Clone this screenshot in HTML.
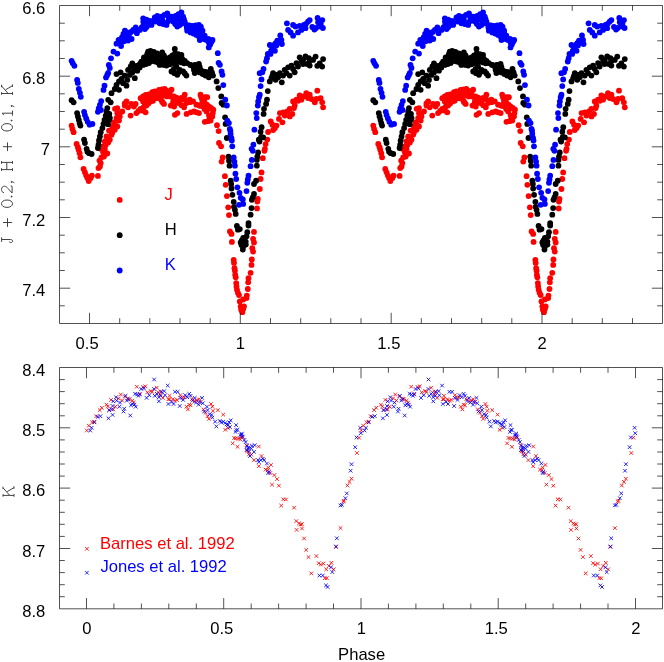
<!DOCTYPE html>
<html><head><meta charset="utf-8"><title>Light curves</title>
<style>html,body{margin:0;padding:0;background:#fff}svg{display:block;will-change:transform}</style></head>
<body>
<svg width="664" height="662" viewBox="0 0 664 662">
<rect width="664" height="662" fill="#fff"/>
<g><g fill="#f00"><circle cx="71.6" cy="125.6" r="2.9"/><circle cx="72.4" cy="128.9" r="2.9"/><circle cx="73.6" cy="132.2" r="2.9"/><circle cx="76.6" cy="143.9" r="2.9"/><circle cx="77.9" cy="147.2" r="2.9"/><circle cx="100.7" cy="148.8" r="2.9"/><circle cx="103.2" cy="146.3" r="2.9"/><circle cx="104.8" cy="141.4" r="2.9"/><circle cx="106.5" cy="136.4" r="2.9"/><circle cx="109.8" cy="139.7" r="2.9"/><circle cx="109" cy="130.6" r="2.9"/><circle cx="111.5" cy="134.7" r="2.9"/><circle cx="112.3" cy="126.4" r="2.9"/><circle cx="114.8" cy="129.7" r="2.9"/><circle cx="114" cy="122.3" r="2.9"/><circle cx="117.3" cy="126.4" r="2.9"/><circle cx="116.5" cy="118.1" r="2.9"/><circle cx="119" cy="120.6" r="2.9"/><circle cx="117.3" cy="108.1" r="2.9"/><circle cx="119.8" cy="113.1" r="2.9"/><circle cx="122.3" cy="111.5" r="2.9"/><circle cx="124.8" cy="105.6" r="2.9"/><circle cx="126.5" cy="101.5" r="2.9"/><circle cx="128.1" cy="107.3" r="2.9"/><circle cx="130.6" cy="115.6" r="2.9"/><circle cx="131.4" cy="104" r="2.9"/><circle cx="133.9" cy="106.5" r="2.9"/><circle cx="135.6" cy="104" r="2.9"/><circle cx="136.4" cy="113.1" r="2.9"/><circle cx="140.6" cy="109" r="2.9"/><circle cx="145.6" cy="112.3" r="2.9"/><circle cx="140.6" cy="98.2" r="2.9"/><circle cx="143.1" cy="101.5" r="2.9"/><circle cx="145.6" cy="94.8" r="2.9"/><circle cx="146.4" cy="105.6" r="2.9"/><circle cx="148.1" cy="98.2" r="2.9"/><circle cx="150.5" cy="101.5" r="2.9"/><circle cx="151.4" cy="94" r="2.9"/><circle cx="153.9" cy="97.3" r="2.9"/><circle cx="154.7" cy="91.5" r="2.9"/><circle cx="157.2" cy="94.8" r="2.9"/><circle cx="158.9" cy="89.8" r="2.9"/><circle cx="160.5" cy="99" r="2.9"/><circle cx="162.2" cy="92.3" r="2.9"/><circle cx="163.8" cy="95.7" r="2.9"/><circle cx="164.7" cy="89" r="2.9"/><circle cx="115" cy="108.8" r="2.9"/><circle cx="145.7" cy="101.4" r="2.9"/><circle cx="152.3" cy="92.2" r="2.9"/><circle cx="164" cy="103.9" r="2.9"/><circle cx="167.3" cy="96.4" r="2.9"/><circle cx="169.8" cy="93.1" r="2.9"/><circle cx="171.5" cy="89.7" r="2.9"/><circle cx="173.1" cy="102.2" r="2.9"/><circle cx="173.9" cy="96.4" r="2.9"/><circle cx="176.4" cy="99.7" r="2.9"/><circle cx="178.9" cy="103" r="2.9"/><circle cx="181.4" cy="98" r="2.9"/><circle cx="184.7" cy="94.7" r="2.9"/><circle cx="186.4" cy="103" r="2.9"/><circle cx="189.7" cy="99.7" r="2.9"/><circle cx="193.1" cy="101.4" r="2.9"/><circle cx="196.4" cy="104.7" r="2.9"/><circle cx="200.5" cy="94.7" r="2.9"/><circle cx="202.2" cy="99.7" r="2.9"/><circle cx="204.7" cy="103" r="2.9"/><circle cx="207.2" cy="97.2" r="2.9"/><circle cx="208.8" cy="106.3" r="2.9"/><circle cx="203.3" cy="101.4" r="2.9"/><circle cx="205" cy="97.2" r="2.9"/><circle cx="202.5" cy="106.3" r="2.9"/><circle cx="206.6" cy="108.8" r="2.9"/><circle cx="213.3" cy="109.7" r="2.9"/><circle cx="293.1" cy="101.4" r="2.9"/><circle cx="294.7" cy="105.5" r="2.9"/><circle cx="289.7" cy="108.8" r="2.9"/><circle cx="296.4" cy="99.7" r="2.9"/><circle cx="299.7" cy="95.5" r="2.9"/><circle cx="301.4" cy="99.7" r="2.9"/><circle cx="303.9" cy="96.4" r="2.9"/><circle cx="306.3" cy="93.1" r="2.9"/><circle cx="308" cy="98" r="2.9"/><circle cx="309.7" cy="94.7" r="2.9"/><circle cx="78.6" cy="149.8" r="2.9"/><circle cx="79.6" cy="153.2" r="2.9"/><circle cx="80.4" cy="157.3" r="2.9"/><circle cx="83.6" cy="169" r="2.9"/><circle cx="84.9" cy="172.3" r="2.9"/><circle cx="86.2" cy="175.6" r="2.9"/><circle cx="87.4" cy="178.1" r="2.9"/><circle cx="88.7" cy="181.1" r="2.9"/><circle cx="90.7" cy="178.1" r="2.9"/><circle cx="91.9" cy="175.6" r="2.9"/><circle cx="97.9" cy="175.9" r="2.9"/><circle cx="98.5" cy="168.1" r="2.9"/><circle cx="99.9" cy="166.5" r="2.9"/><circle cx="100.7" cy="163.1" r="2.9"/><circle cx="99.5" cy="160.6" r="2.9"/><circle cx="101.5" cy="157.3" r="2.9"/><circle cx="104" cy="156.5" r="2.9"/><circle cx="103.2" cy="152.3" r="2.9"/><circle cx="104.8" cy="149" r="2.9"/><circle cx="107.3" cy="153.5" r="2.9"/><circle cx="105.7" cy="144.9" r="2.9"/><circle cx="108.2" cy="142.4" r="2.9"/><circle cx="112.3" cy="132.4" r="2.9"/><circle cx="113.2" cy="128.2" r="2.9"/><circle cx="114.8" cy="124.9" r="2.9"/><circle cx="119.8" cy="116.6" r="2.9"/><circle cx="117.3" cy="113.3" r="2.9"/><circle cx="124.8" cy="103.3" r="2.9"/><circle cx="153" cy="100.8" r="2.9"/><circle cx="155" cy="94" r="2.9"/><circle cx="156.6" cy="98.2" r="2.9"/><circle cx="160" cy="96.5" r="2.9"/><circle cx="162.5" cy="102.3" r="2.9"/><circle cx="164.1" cy="91.5" r="2.9"/><circle cx="170.8" cy="105.6" r="2.9"/><circle cx="174.1" cy="106.5" r="2.9"/><circle cx="176.6" cy="102.3" r="2.9"/><circle cx="179.1" cy="99" r="2.9"/><circle cx="184.1" cy="107.3" r="2.9"/><circle cx="187.4" cy="100.6" r="2.9"/><circle cx="174.9" cy="114.8" r="2.9"/><circle cx="177.4" cy="113.1" r="2.9"/><circle cx="186.6" cy="113.9" r="2.9"/><circle cx="190.7" cy="112.3" r="2.9"/><circle cx="194" cy="111.5" r="2.9"/><circle cx="199" cy="113.1" r="2.9"/><circle cx="199.8" cy="105.6" r="2.9"/><circle cx="206.5" cy="111.5" r="2.9"/><circle cx="209" cy="115.6" r="2.9"/><circle cx="210.6" cy="120.6" r="2.9"/><circle cx="212.3" cy="116.4" r="2.9"/><circle cx="204.8" cy="121.8" r="2.9"/><circle cx="217" cy="125.2" r="2.9"/><circle cx="218.6" cy="131.1" r="2.9"/><circle cx="219" cy="143" r="2.9"/><circle cx="221.1" cy="146.3" r="2.9"/><circle cx="222.7" cy="157.4" r="2.9"/><circle cx="221.6" cy="161.6" r="2.9"/><circle cx="224.9" cy="176.2" r="2.9"/><circle cx="225.7" cy="184.8" r="2.9"/><circle cx="226.9" cy="196.1" r="2.9"/><circle cx="228.2" cy="207.3" r="2.9"/><circle cx="229" cy="215.1" r="2.9"/><circle cx="229.9" cy="231.4" r="2.9"/><circle cx="231.5" cy="233.9" r="2.9"/><circle cx="268.1" cy="132" r="2.9"/><circle cx="273.1" cy="130" r="2.9"/><circle cx="267.3" cy="139.6" r="2.9"/><circle cx="265.6" cy="144.1" r="2.9"/><circle cx="264.4" cy="150.8" r="2.9"/><circle cx="262.8" cy="158.2" r="2.9"/><circle cx="261.5" cy="172.4" r="2.9"/><circle cx="260.6" cy="179" r="2.9"/><circle cx="259.8" cy="189" r="2.9"/><circle cx="257.8" cy="199" r="2.9"/><circle cx="257.3" cy="201.5" r="2.9"/><circle cx="257" cy="208.4" r="2.9"/><circle cx="254" cy="231.9" r="2.9"/><circle cx="253.1" cy="238.8" r="2.9"/><circle cx="231.9" cy="241.9" r="2.9"/><circle cx="233.7" cy="259.9" r="2.9"/><circle cx="234" cy="262.9" r="2.9"/><circle cx="234.5" cy="268.2" r="2.9"/><circle cx="234.9" cy="270.7" r="2.9"/><circle cx="235.2" cy="274.8" r="2.9"/><circle cx="235.7" cy="277.3" r="2.9"/><circle cx="236.2" cy="283.1" r="2.9"/><circle cx="236.5" cy="286.5" r="2.9"/><circle cx="237" cy="289.8" r="2.9"/><circle cx="237.9" cy="292.8" r="2.9"/><circle cx="239" cy="295.1" r="2.9"/><circle cx="239.8" cy="301.4" r="2.9"/><circle cx="240.7" cy="306.4" r="2.9"/><circle cx="241.2" cy="309.7" r="2.9"/><circle cx="242.3" cy="312.2" r="2.9"/><circle cx="254" cy="242.4" r="2.9"/><circle cx="252.3" cy="248.2" r="2.9"/><circle cx="253.1" cy="251.6" r="2.9"/><circle cx="251.8" cy="259.5" r="2.9"/><circle cx="251.5" cy="264.9" r="2.9"/><circle cx="250.6" cy="272.8" r="2.9"/><circle cx="248.5" cy="278.2" r="2.9"/><circle cx="248.2" cy="282.3" r="2.9"/><circle cx="247.8" cy="289" r="2.9"/><circle cx="246.8" cy="295.6" r="2.9"/><circle cx="246.5" cy="298.1" r="2.9"/><circle cx="243.2" cy="299.4" r="2.9"/><circle cx="244" cy="306.4" r="2.9"/><circle cx="243.2" cy="308.9" r="2.9"/><circle cx="264.9" cy="148.8" r="2.9"/><circle cx="270.7" cy="121.4" r="2.9"/><circle cx="272.4" cy="124.7" r="2.9"/><circle cx="274.9" cy="128.1" r="2.9"/><circle cx="276.5" cy="125.6" r="2.9"/><circle cx="279" cy="118.9" r="2.9"/><circle cx="279.9" cy="113.1" r="2.9"/><circle cx="282.4" cy="122.3" r="2.9"/><circle cx="283.2" cy="112.3" r="2.9"/><circle cx="284.8" cy="115.6" r="2.9"/><circle cx="287.3" cy="111.5" r="2.9"/><circle cx="289.8" cy="116.4" r="2.9"/><circle cx="292.3" cy="113.9" r="2.9"/><circle cx="294" cy="108.1" r="2.9"/><circle cx="311.4" cy="99" r="2.9"/><circle cx="314.8" cy="102.3" r="2.9"/><circle cx="317.3" cy="90.7" r="2.9"/><circle cx="316.4" cy="99" r="2.9"/><circle cx="320.6" cy="98.2" r="2.9"/><circle cx="322.2" cy="102.3" r="2.9"/><circle cx="323.1" cy="107.3" r="2.9"/><circle cx="298.1" cy="100.8" r="2.9"/><circle cx="138.5" cy="111" r="2.9"/><circle cx="143.1" cy="110.7" r="2.9"/><circle cx="143.5" cy="107.3" r="2.9"/><circle cx="143.1" cy="96.5" r="2.9"/><circle cx="143.1" cy="99.8" r="2.9"/><circle cx="144.8" cy="103.5" r="2.9"/><circle cx="148.5" cy="94.4" r="2.9"/><circle cx="145.6" cy="98.1" r="2.9"/><circle cx="148.4" cy="103.5" r="2.9"/><circle cx="151" cy="97.8" r="2.9"/><circle cx="154.3" cy="94.4" r="2.9"/><circle cx="157.2" cy="98.2" r="2.9"/><circle cx="158.1" cy="92.3" r="2.9"/><circle cx="160.5" cy="95.2" r="2.9"/><circle cx="161.8" cy="89.4" r="2.9"/><circle cx="162.2" cy="101.5" r="2.9"/><circle cx="164.8" cy="94.3" r="2.9"/><circle cx="167.2" cy="91" r="2.9"/><circle cx="170.6" cy="96.4" r="2.9"/><circle cx="173.5" cy="99.3" r="2.9"/><circle cx="176" cy="102.6" r="2.9"/><circle cx="176.5" cy="97.7" r="2.9"/><circle cx="180.2" cy="100.5" r="2.9"/><circle cx="181.5" cy="105.2" r="2.9"/><circle cx="184.4" cy="99.3" r="2.9"/><circle cx="189.8" cy="102.2" r="2.9"/><circle cx="199.4" cy="105.5" r="2.9"/><circle cx="201.3" cy="97.2" r="2.9"/><circle cx="204.7" cy="98.5" r="2.9"/><circle cx="202.3" cy="103" r="2.9"/><circle cx="206.8" cy="104.7" r="2.9"/><circle cx="211.1" cy="108" r="2.9"/><circle cx="207.7" cy="108.9" r="2.9"/><circle cx="204.5" cy="108.9" r="2.9"/><circle cx="212.8" cy="113.1" r="2.9"/><circle cx="196.5" cy="112.3" r="2.9"/><circle cx="209.8" cy="118.1" r="2.9"/><circle cx="207.7" cy="121.2" r="2.9"/></g><g fill="#000"><circle cx="71.6" cy="100.2" r="2.9"/><circle cx="73.6" cy="102.3" r="2.9"/><circle cx="77.1" cy="113.1" r="2.9"/><circle cx="77.9" cy="116.4" r="2.9"/><circle cx="78.8" cy="119.8" r="2.9"/><circle cx="79.6" cy="123.1" r="2.9"/><circle cx="80.4" cy="125.6" r="2.9"/><circle cx="84.1" cy="139.7" r="2.9"/><circle cx="84.9" cy="143" r="2.9"/><circle cx="86.6" cy="148.8" r="2.9"/><circle cx="97.9" cy="148" r="2.9"/><circle cx="98.5" cy="144.7" r="2.9"/><circle cx="99" cy="140.5" r="2.9"/><circle cx="99.9" cy="136.4" r="2.9"/><circle cx="100.7" cy="132.2" r="2.9"/><circle cx="102.4" cy="128.1" r="2.9"/><circle cx="103.5" cy="123.9" r="2.9"/><circle cx="104.5" cy="119.8" r="2.9"/><circle cx="105.7" cy="115.6" r="2.9"/><circle cx="106.5" cy="111.5" r="2.9"/><circle cx="107.3" cy="108.1" r="2.9"/><circle cx="108.2" cy="99.8" r="2.9"/><circle cx="110.7" cy="102.3" r="2.9"/><circle cx="111.5" cy="93.2" r="2.9"/><circle cx="114.8" cy="89" r="2.9"/><circle cx="119" cy="89.8" r="2.9"/><circle cx="126.5" cy="85.7" r="2.9"/><circle cx="116.5" cy="84.9" r="2.9"/><circle cx="119" cy="81.5" r="2.9"/><circle cx="116.5" cy="74.1" r="2.9"/><circle cx="121.5" cy="79" r="2.9"/><circle cx="123.1" cy="83.2" r="2.9"/><circle cx="120.6" cy="72.4" r="2.9"/><circle cx="124.8" cy="75.7" r="2.9"/><circle cx="127.3" cy="79.9" r="2.9"/><circle cx="128.1" cy="69.9" r="2.9"/><circle cx="129.8" cy="74.9" r="2.9"/><circle cx="132.3" cy="72.4" r="2.9"/><circle cx="134.8" cy="78.2" r="2.9"/><circle cx="132.3" cy="63.3" r="2.9"/><circle cx="133.9" cy="68.2" r="2.9"/><circle cx="136.4" cy="65.8" r="2.9"/><circle cx="137.3" cy="70.7" r="2.9"/><circle cx="139.7" cy="67.4" r="2.9"/><circle cx="141.4" cy="61.6" r="2.9"/><circle cx="143.1" cy="64.9" r="2.9"/><circle cx="145.6" cy="61.6" r="2.9"/><circle cx="146.4" cy="56.6" r="2.9"/><circle cx="148.1" cy="51.6" r="2.9"/><circle cx="150.5" cy="50.8" r="2.9"/><circle cx="149.7" cy="56.6" r="2.9"/><circle cx="152.2" cy="60.8" r="2.9"/><circle cx="153" cy="55" r="2.9"/><circle cx="154.7" cy="58.3" r="2.9"/><circle cx="157.2" cy="53.3" r="2.9"/><circle cx="158" cy="62.4" r="2.9"/><circle cx="159.7" cy="64.9" r="2.9"/><circle cx="161.3" cy="56.6" r="2.9"/><circle cx="162.2" cy="52.5" r="2.9"/><circle cx="163.8" cy="61.6" r="2.9"/><circle cx="163.8" cy="64.9" r="2.9"/><circle cx="175.1" cy="53.5" r="2.9"/><circle cx="130.7" cy="66.5" r="2.9"/><circle cx="139.9" cy="64" r="2.9"/><circle cx="144" cy="57.3" r="2.9"/><circle cx="149" cy="63.1" r="2.9"/><circle cx="152.3" cy="52.3" r="2.9"/><circle cx="155.7" cy="54.8" r="2.9"/><circle cx="159" cy="57.3" r="2.9"/><circle cx="165.6" cy="58.2" r="2.9"/><circle cx="166.5" cy="65.6" r="2.9"/><circle cx="168.1" cy="61.5" r="2.9"/><circle cx="169.8" cy="57.3" r="2.9"/><circle cx="171.5" cy="71.5" r="2.9"/><circle cx="173.1" cy="63.1" r="2.9"/><circle cx="174.8" cy="49" r="2.9"/><circle cx="175.6" cy="57.3" r="2.9"/><circle cx="176.4" cy="66.5" r="2.9"/><circle cx="177.3" cy="74.8" r="2.9"/><circle cx="178.9" cy="61.5" r="2.9"/><circle cx="179.8" cy="69.8" r="2.9"/><circle cx="181.4" cy="54.8" r="2.9"/><circle cx="182.3" cy="59" r="2.9"/><circle cx="183.1" cy="71.5" r="2.9"/><circle cx="186.4" cy="75.6" r="2.9"/><circle cx="187.2" cy="63.1" r="2.9"/><circle cx="190.6" cy="64.8" r="2.9"/><circle cx="193.1" cy="66.5" r="2.9"/><circle cx="194.7" cy="73.1" r="2.9"/><circle cx="197.2" cy="69" r="2.9"/><circle cx="198.9" cy="64" r="2.9"/><circle cx="200.5" cy="69.8" r="2.9"/><circle cx="203" cy="71.5" r="2.9"/><circle cx="205.5" cy="75.6" r="2.9"/><circle cx="208" cy="72.3" r="2.9"/><circle cx="208.8" cy="77.3" r="2.9"/><circle cx="210.8" cy="69" r="2.9"/><circle cx="211.6" cy="73.1" r="2.9"/><circle cx="213" cy="75.6" r="2.9"/><circle cx="216.6" cy="81.4" r="2.9"/><circle cx="218.3" cy="88.1" r="2.9"/><circle cx="221.3" cy="96.4" r="2.9"/><circle cx="221.6" cy="103" r="2.9"/><circle cx="223.3" cy="104.7" r="2.9"/><circle cx="264" cy="108.8" r="2.9"/><circle cx="266.1" cy="103.9" r="2.9"/><circle cx="267" cy="99.7" r="2.9"/><circle cx="267.8" cy="91.1" r="2.9"/><circle cx="269.8" cy="81.4" r="2.9"/><circle cx="271.5" cy="78.1" r="2.9"/><circle cx="273.1" cy="73.1" r="2.9"/><circle cx="274.8" cy="76.4" r="2.9"/><circle cx="275.6" cy="79.8" r="2.9"/><circle cx="278.1" cy="77.3" r="2.9"/><circle cx="279.8" cy="73.1" r="2.9"/><circle cx="281.8" cy="82.3" r="2.9"/><circle cx="283.1" cy="75.6" r="2.9"/><circle cx="284.7" cy="69.8" r="2.9"/><circle cx="286.4" cy="73.1" r="2.9"/><circle cx="288.1" cy="67.3" r="2.9"/><circle cx="289.7" cy="75.6" r="2.9"/><circle cx="291.4" cy="65.6" r="2.9"/><circle cx="293.1" cy="69" r="2.9"/><circle cx="294.7" cy="72.3" r="2.9"/><circle cx="296.4" cy="63.1" r="2.9"/><circle cx="298" cy="66.5" r="2.9"/><circle cx="299.7" cy="57.3" r="2.9"/><circle cx="301.4" cy="61.5" r="2.9"/><circle cx="303" cy="64" r="2.9"/><circle cx="305.5" cy="56.5" r="2.9"/><circle cx="307.2" cy="64" r="2.9"/><circle cx="308.8" cy="58.2" r="2.9"/><circle cx="309.7" cy="65.6" r="2.9"/><circle cx="87.4" cy="151.8" r="2.9"/><circle cx="89.1" cy="153.2" r="2.9"/><circle cx="91.6" cy="154" r="2.9"/><circle cx="107.3" cy="117.4" r="2.9"/><circle cx="109" cy="119.9" r="2.9"/><circle cx="152.5" cy="58.3" r="2.9"/><circle cx="184.1" cy="63.3" r="2.9"/><circle cx="194.9" cy="64.9" r="2.9"/><circle cx="199.8" cy="72.4" r="2.9"/><circle cx="225.1" cy="117.3" r="2.9"/><circle cx="225.6" cy="123.9" r="2.9"/><circle cx="226.8" cy="138" r="2.9"/><circle cx="258.8" cy="139.7" r="2.9"/><circle cx="228.5" cy="156.6" r="2.9"/><circle cx="229" cy="160.7" r="2.9"/><circle cx="229.5" cy="165.7" r="2.9"/><circle cx="230.7" cy="180.7" r="2.9"/><circle cx="231.2" cy="184" r="2.9"/><circle cx="231.5" cy="188.5" r="2.9"/><circle cx="232.4" cy="194.8" r="2.9"/><circle cx="233.7" cy="201.8" r="2.9"/><circle cx="234" cy="206.8" r="2.9"/><circle cx="234.9" cy="209.8" r="2.9"/><circle cx="235.7" cy="213.9" r="2.9"/><circle cx="236.9" cy="226" r="2.9"/><circle cx="237.9" cy="229.7" r="2.9"/><circle cx="247.3" cy="232.2" r="2.9"/><circle cx="246.5" cy="236.3" r="2.9"/><circle cx="243.2" cy="238" r="2.9"/><circle cx="260.6" cy="131.7" r="2.9"/><circle cx="261.1" cy="137" r="2.9"/><circle cx="259.5" cy="141.6" r="2.9"/><circle cx="258.1" cy="152.4" r="2.9"/><circle cx="257.3" cy="156.6" r="2.9"/><circle cx="256.8" cy="159.9" r="2.9"/><circle cx="256.8" cy="165.7" r="2.9"/><circle cx="256.1" cy="180.7" r="2.9"/><circle cx="254" cy="184" r="2.9"/><circle cx="254" cy="194" r="2.9"/><circle cx="252.8" cy="197.3" r="2.9"/><circle cx="251.8" cy="199.8" r="2.9"/><circle cx="251.5" cy="208.1" r="2.9"/><circle cx="250.6" cy="214.7" r="2.9"/><circle cx="248.5" cy="223.1" r="2.9"/><circle cx="248.5" cy="225.5" r="2.9"/><circle cx="239.8" cy="229.1" r="2.9"/><circle cx="245.8" cy="244.6" r="2.9"/><circle cx="241.8" cy="240.3" r="2.9"/><circle cx="244" cy="239.9" r="2.9"/><circle cx="240.7" cy="242.4" r="2.9"/><circle cx="241.5" cy="244.9" r="2.9"/><circle cx="245.7" cy="241.6" r="2.9"/><circle cx="243.2" cy="246.6" r="2.9"/><circle cx="242.8" cy="249.6" r="2.9"/><circle cx="261.6" cy="127.2" r="2.9"/><circle cx="263.6" cy="113.9" r="2.9"/><circle cx="272.4" cy="75.7" r="2.9"/><circle cx="276.5" cy="74.9" r="2.9"/><circle cx="303.1" cy="59.9" r="2.9"/><circle cx="309.8" cy="60.8" r="2.9"/><circle cx="313.1" cy="59.9" r="2.9"/><circle cx="315.6" cy="56.6" r="2.9"/><circle cx="317.3" cy="65.8" r="2.9"/><circle cx="319.7" cy="63.3" r="2.9"/><circle cx="322.2" cy="66.6" r="2.9"/><circle cx="323.1" cy="59.1" r="2.9"/><circle cx="263.2" cy="137.4" r="2.9"/><circle cx="109.3" cy="113.9" r="2.9"/><circle cx="109.9" cy="118.1" r="2.9"/><circle cx="108.1" cy="124.2" r="2.9"/><circle cx="143.9" cy="59.1" r="2.9"/><circle cx="146.1" cy="64" r="2.9"/><circle cx="147.6" cy="59.1" r="2.9"/><circle cx="147.2" cy="54.1" r="2.9"/><circle cx="149.7" cy="55.8" r="2.9"/><circle cx="153.8" cy="52" r="2.9"/><circle cx="152.7" cy="55.7" r="2.9"/><circle cx="155.1" cy="61.6" r="2.9"/><circle cx="156" cy="56.1" r="2.9"/><circle cx="151.8" cy="60.7" r="2.9"/><circle cx="159.2" cy="55" r="2.9"/><circle cx="159.7" cy="59.5" r="2.9"/><circle cx="160.9" cy="63.7" r="2.9"/><circle cx="163.9" cy="55.4" r="2.9"/><circle cx="166.8" cy="59.5" r="2.9"/><circle cx="165.9" cy="63.2" r="2.9"/><circle cx="172.4" cy="55.4" r="2.9"/><circle cx="178.2" cy="54.1" r="2.9"/><circle cx="169.8" cy="64.3" r="2.9"/><circle cx="171.4" cy="60.2" r="2.9"/><circle cx="173.9" cy="69" r="2.9"/><circle cx="174.4" cy="73.2" r="2.9"/><circle cx="176" cy="62.3" r="2.9"/><circle cx="177.2" cy="59.4" r="2.9"/><circle cx="178.6" cy="72.3" r="2.9"/><circle cx="180.2" cy="58.1" r="2.9"/><circle cx="181.5" cy="62.4" r="2.9"/><circle cx="184.8" cy="61" r="2.9"/><circle cx="184.8" cy="73.5" r="2.9"/><circle cx="190.1" cy="64.8" r="2.9"/><circle cx="193.9" cy="69.8" r="2.9"/><circle cx="196" cy="65.2" r="2.9"/><circle cx="197.6" cy="71.4" r="2.9"/><circle cx="199.7" cy="66.9" r="2.9"/><circle cx="205.5" cy="71.9" r="2.9"/><circle cx="208.6" cy="74.3" r="2.9"/><circle cx="202.7" cy="74" r="2.9"/><circle cx="211.9" cy="72.3" r="2.9"/></g><g fill="#00f"><circle cx="71.6" cy="60.8" r="2.9"/><circle cx="72.8" cy="63.3" r="2.9"/><circle cx="74.4" cy="65.8" r="2.9"/><circle cx="77.1" cy="79.9" r="2.9"/><circle cx="77.8" cy="82.9" r="2.9"/><circle cx="78.8" cy="89" r="2.9"/><circle cx="79.9" cy="92.8" r="2.9"/><circle cx="80.8" cy="96.8" r="2.9"/><circle cx="84.1" cy="111.8" r="2.9"/><circle cx="84.9" cy="115.1" r="2.9"/><circle cx="86.2" cy="118.4" r="2.9"/><circle cx="87.7" cy="121.8" r="2.9"/><circle cx="89.6" cy="124.7" r="2.9"/><circle cx="92.4" cy="123.9" r="2.9"/><circle cx="97.9" cy="111.8" r="2.9"/><circle cx="98.7" cy="108.5" r="2.9"/><circle cx="99.9" cy="104.8" r="2.9"/><circle cx="101.2" cy="101.1" r="2.9"/><circle cx="117.3" cy="53.6" r="2.9"/><circle cx="116.5" cy="43.7" r="2.9"/><circle cx="119" cy="42.5" r="2.9"/><circle cx="121.1" cy="46.1" r="2.9"/><circle cx="124" cy="41.3" r="2.9"/><circle cx="128.1" cy="40.5" r="2.9"/><circle cx="155.7" cy="21.6" r="2.9"/><circle cx="159.8" cy="23.3" r="2.9"/><circle cx="148.2" cy="24.9" r="2.9"/><circle cx="118.6" cy="39.9" r="2.9"/><circle cx="121.9" cy="37.4" r="2.9"/><circle cx="124.9" cy="30.7" r="2.9"/><circle cx="124.9" cy="35.7" r="2.9"/><circle cx="129.1" cy="34.1" r="2.9"/><circle cx="131.6" cy="39" r="2.9"/><circle cx="133.2" cy="29.9" r="2.9"/><circle cx="135.7" cy="27.4" r="2.9"/><circle cx="136.9" cy="33.2" r="2.9"/><circle cx="139.9" cy="29.9" r="2.9"/><circle cx="143.2" cy="18.3" r="2.9"/><circle cx="143.5" cy="24.9" r="2.9"/><circle cx="144.9" cy="29.1" r="2.9"/><circle cx="147.4" cy="22.4" r="2.9"/><circle cx="149.8" cy="20.8" r="2.9"/><circle cx="151.5" cy="24.9" r="2.9"/><circle cx="154.8" cy="17.4" r="2.9"/><circle cx="157.3" cy="15.8" r="2.9"/><circle cx="159" cy="19.9" r="2.9"/><circle cx="161.5" cy="16.6" r="2.9"/><circle cx="163.1" cy="23.3" r="2.9"/><circle cx="166.5" cy="24.9" r="2.9"/><circle cx="167.3" cy="13.3" r="2.9"/><circle cx="169" cy="18.3" r="2.9"/><circle cx="171.5" cy="16.6" r="2.9"/><circle cx="173.1" cy="21.6" r="2.9"/><circle cx="175.6" cy="15.8" r="2.9"/><circle cx="177.3" cy="26.6" r="2.9"/><circle cx="178.9" cy="18.3" r="2.9"/><circle cx="181.4" cy="12.5" r="2.9"/><circle cx="183.1" cy="16.6" r="2.9"/><circle cx="182.3" cy="23.3" r="2.9"/><circle cx="184.7" cy="21.6" r="2.9"/><circle cx="186.4" cy="24.9" r="2.9"/><circle cx="187.2" cy="30.7" r="2.9"/><circle cx="190.6" cy="32.4" r="2.9"/><circle cx="192.2" cy="25.8" r="2.9"/><circle cx="194.7" cy="28.2" r="2.9"/><circle cx="196.4" cy="34.9" r="2.9"/><circle cx="198.9" cy="24.9" r="2.9"/><circle cx="199.7" cy="30.7" r="2.9"/><circle cx="202.2" cy="33.2" r="2.9"/><circle cx="201.4" cy="38.2" r="2.9"/><circle cx="204.7" cy="35.7" r="2.9"/><circle cx="206.3" cy="39.9" r="2.9"/><circle cx="208.8" cy="42.4" r="2.9"/><circle cx="208.8" cy="47.4" r="2.9"/><circle cx="200.8" cy="26.6" r="2.9"/><circle cx="202.5" cy="30.7" r="2.9"/><circle cx="208.3" cy="39" r="2.9"/><circle cx="212.5" cy="39.9" r="2.9"/><circle cx="217.8" cy="53.2" r="2.9"/><circle cx="218.6" cy="62.8" r="2.9"/><circle cx="219.9" cy="64.8" r="2.9"/><circle cx="221.6" cy="71.5" r="2.9"/><circle cx="222.4" cy="74.8" r="2.9"/><circle cx="223.3" cy="85.1" r="2.9"/><circle cx="225.3" cy="99.7" r="2.9"/><circle cx="226.9" cy="105.5" r="2.9"/><circle cx="257.8" cy="105.5" r="2.9"/><circle cx="258.2" cy="101.4" r="2.9"/><circle cx="259" cy="97.2" r="2.9"/><circle cx="259.8" cy="94.7" r="2.9"/><circle cx="260.6" cy="86.1" r="2.9"/><circle cx="261.5" cy="79.4" r="2.9"/><circle cx="262.3" cy="72.3" r="2.9"/><circle cx="263.5" cy="69" r="2.9"/><circle cx="266.1" cy="61.5" r="2.9"/><circle cx="267" cy="58.2" r="2.9"/><circle cx="267.8" cy="54" r="2.9"/><circle cx="269.8" cy="44.9" r="2.9"/><circle cx="271.8" cy="46.5" r="2.9"/><circle cx="273.1" cy="49.8" r="2.9"/><circle cx="275.6" cy="43.2" r="2.9"/><circle cx="277.3" cy="40.7" r="2.9"/><circle cx="280.3" cy="35.4" r="2.9"/><circle cx="281.4" cy="39.9" r="2.9"/><circle cx="281.9" cy="44" r="2.9"/><circle cx="286.9" cy="23.3" r="2.9"/><circle cx="288.1" cy="29.9" r="2.9"/><circle cx="290.6" cy="32.4" r="2.9"/><circle cx="293.1" cy="24.9" r="2.9"/><circle cx="293.1" cy="35.7" r="2.9"/><circle cx="295.5" cy="26.6" r="2.9"/><circle cx="298" cy="32.4" r="2.9"/><circle cx="299.7" cy="25.8" r="2.9"/><circle cx="301.4" cy="29.9" r="2.9"/><circle cx="303.9" cy="24.9" r="2.9"/><circle cx="305.5" cy="28.2" r="2.9"/><circle cx="308" cy="21.6" r="2.9"/><circle cx="199.8" cy="40" r="2.9"/><circle cx="211.5" cy="41.7" r="2.9"/><circle cx="227.3" cy="120.6" r="2.9"/><circle cx="228.9" cy="123.1" r="2.9"/><circle cx="229.8" cy="128.9" r="2.9"/><circle cx="230.6" cy="133.9" r="2.9"/><circle cx="231.4" cy="138" r="2.9"/><circle cx="231.8" cy="140.5" r="2.9"/><circle cx="232.3" cy="146.3" r="2.9"/><circle cx="256.3" cy="113.1" r="2.9"/><circle cx="256.7" cy="118.1" r="2.9"/><circle cx="254.4" cy="129.7" r="2.9"/><circle cx="253.4" cy="144.7" r="2.9"/><circle cx="259.7" cy="73.2" r="2.9"/><circle cx="230.4" cy="130.8" r="2.9"/><circle cx="233.7" cy="157.4" r="2.9"/><circle cx="234.4" cy="161.6" r="2.9"/><circle cx="234.9" cy="165.7" r="2.9"/><circle cx="235.4" cy="173.7" r="2.9"/><circle cx="236.2" cy="179" r="2.9"/><circle cx="237.4" cy="187.3" r="2.9"/><circle cx="239.5" cy="192.8" r="2.9"/><circle cx="240.7" cy="197.8" r="2.9"/><circle cx="242.8" cy="199.5" r="2.9"/><circle cx="239" cy="204.8" r="2.9"/><circle cx="243.2" cy="203.9" r="2.9"/><circle cx="252.8" cy="150.8" r="2.9"/><circle cx="251.8" cy="159.9" r="2.9"/><circle cx="250.6" cy="166.2" r="2.9"/><circle cx="248.5" cy="175.7" r="2.9"/><circle cx="247.8" cy="179.5" r="2.9"/><circle cx="247.3" cy="182.8" r="2.9"/><circle cx="246.5" cy="191.1" r="2.9"/><circle cx="279.9" cy="42.5" r="2.9"/><circle cx="274.9" cy="50.8" r="2.9"/><circle cx="251.6" cy="148.8" r="2.9"/><circle cx="306" cy="23.8" r="2.9"/><circle cx="309.7" cy="20.1" r="2.9"/><circle cx="312.3" cy="27" r="2.9"/><circle cx="314.4" cy="29.6" r="2.9"/><circle cx="316" cy="28" r="2.9"/><circle cx="317.6" cy="18" r="2.9"/><circle cx="318.1" cy="22.2" r="2.9"/><circle cx="320.8" cy="23.8" r="2.9"/><circle cx="322.3" cy="20.1" r="2.9"/><circle cx="322.9" cy="28" r="2.9"/><circle cx="319.7" cy="26.4" r="2.9"/><circle cx="276.3" cy="45.5" r="2.9"/><circle cx="274.2" cy="44.9" r="2.9"/><circle cx="271.1" cy="50.8" r="2.9"/><circle cx="270.5" cy="53.9" r="2.9"/><circle cx="100.9" cy="110" r="2.9"/><circle cx="103.5" cy="89.9" r="2.9"/><circle cx="104.5" cy="85.7" r="2.9"/><circle cx="106" cy="77.4" r="2.9"/><circle cx="107.2" cy="75" r="2.9"/><circle cx="108.2" cy="72.9" r="2.9"/><circle cx="109.8" cy="67.9" r="2.9"/><circle cx="108.8" cy="64.9" r="2.9"/><circle cx="111" cy="58.3" r="2.9"/><circle cx="113.5" cy="51.6" r="2.9"/><circle cx="121.5" cy="41.9" r="2.9"/><circle cx="124.5" cy="38.5" r="2.9"/><circle cx="128.6" cy="37.3" r="2.9"/><circle cx="152.8" cy="21.2" r="2.9"/><circle cx="156.5" cy="18.7" r="2.9"/><circle cx="159.4" cy="22.5" r="2.9"/><circle cx="163.2" cy="24.1" r="2.9"/><circle cx="146.6" cy="27" r="2.9"/><circle cx="123.4" cy="34" r="2.9"/><circle cx="127" cy="32.4" r="2.9"/><circle cx="131.1" cy="32" r="2.9"/><circle cx="136.6" cy="29.9" r="2.9"/><circle cx="141.7" cy="27.4" r="2.9"/><circle cx="143.3" cy="21.6" r="2.9"/><circle cx="146.5" cy="19.6" r="2.9"/><circle cx="146.7" cy="22.9" r="2.9"/><circle cx="162.3" cy="20" r="2.9"/><circle cx="164.4" cy="15" r="2.9"/><circle cx="167.8" cy="21.6" r="2.9"/><circle cx="168.2" cy="15.8" r="2.9"/><circle cx="171.1" cy="20" r="2.9"/><circle cx="172.3" cy="17.1" r="2.9"/><circle cx="175.2" cy="24.1" r="2.9"/><circle cx="176" cy="20" r="2.9"/><circle cx="178.5" cy="14.2" r="2.9"/><circle cx="179.8" cy="25" r="2.9"/><circle cx="180.6" cy="20.8" r="2.9"/><circle cx="183.9" cy="19.1" r="2.9"/><circle cx="186.8" cy="27.8" r="2.9"/><circle cx="189.3" cy="25.4" r="2.9"/><circle cx="191.4" cy="29.1" r="2.9"/><circle cx="193.5" cy="33.6" r="2.9"/><circle cx="195.6" cy="25.4" r="2.9"/><circle cx="197.2" cy="29.4" r="2.9"/><circle cx="198.1" cy="32.8" r="2.9"/><circle cx="198.9" cy="36.5" r="2.9"/><circle cx="200.7" cy="27.8" r="2.9"/><circle cx="202.2" cy="33.2" r="2.9"/><circle cx="203.9" cy="39" r="2.9"/><circle cx="209.4" cy="39.9" r="2.9"/><circle cx="210.2" cy="44.5" r="2.9"/></g></g>
<g transform="translate(301.67 0)"><g fill="#f00"><circle cx="71.6" cy="125.6" r="2.9"/><circle cx="72.4" cy="128.9" r="2.9"/><circle cx="73.6" cy="132.2" r="2.9"/><circle cx="76.6" cy="143.9" r="2.9"/><circle cx="77.9" cy="147.2" r="2.9"/><circle cx="100.7" cy="148.8" r="2.9"/><circle cx="103.2" cy="146.3" r="2.9"/><circle cx="104.8" cy="141.4" r="2.9"/><circle cx="106.5" cy="136.4" r="2.9"/><circle cx="109.8" cy="139.7" r="2.9"/><circle cx="109" cy="130.6" r="2.9"/><circle cx="111.5" cy="134.7" r="2.9"/><circle cx="112.3" cy="126.4" r="2.9"/><circle cx="114.8" cy="129.7" r="2.9"/><circle cx="114" cy="122.3" r="2.9"/><circle cx="117.3" cy="126.4" r="2.9"/><circle cx="116.5" cy="118.1" r="2.9"/><circle cx="119" cy="120.6" r="2.9"/><circle cx="117.3" cy="108.1" r="2.9"/><circle cx="119.8" cy="113.1" r="2.9"/><circle cx="122.3" cy="111.5" r="2.9"/><circle cx="124.8" cy="105.6" r="2.9"/><circle cx="126.5" cy="101.5" r="2.9"/><circle cx="128.1" cy="107.3" r="2.9"/><circle cx="130.6" cy="115.6" r="2.9"/><circle cx="131.4" cy="104" r="2.9"/><circle cx="133.9" cy="106.5" r="2.9"/><circle cx="135.6" cy="104" r="2.9"/><circle cx="136.4" cy="113.1" r="2.9"/><circle cx="140.6" cy="109" r="2.9"/><circle cx="145.6" cy="112.3" r="2.9"/><circle cx="140.6" cy="98.2" r="2.9"/><circle cx="143.1" cy="101.5" r="2.9"/><circle cx="145.6" cy="94.8" r="2.9"/><circle cx="146.4" cy="105.6" r="2.9"/><circle cx="148.1" cy="98.2" r="2.9"/><circle cx="150.5" cy="101.5" r="2.9"/><circle cx="151.4" cy="94" r="2.9"/><circle cx="153.9" cy="97.3" r="2.9"/><circle cx="154.7" cy="91.5" r="2.9"/><circle cx="157.2" cy="94.8" r="2.9"/><circle cx="158.9" cy="89.8" r="2.9"/><circle cx="160.5" cy="99" r="2.9"/><circle cx="162.2" cy="92.3" r="2.9"/><circle cx="163.8" cy="95.7" r="2.9"/><circle cx="164.7" cy="89" r="2.9"/><circle cx="115" cy="108.8" r="2.9"/><circle cx="145.7" cy="101.4" r="2.9"/><circle cx="152.3" cy="92.2" r="2.9"/><circle cx="164" cy="103.9" r="2.9"/><circle cx="167.3" cy="96.4" r="2.9"/><circle cx="169.8" cy="93.1" r="2.9"/><circle cx="171.5" cy="89.7" r="2.9"/><circle cx="173.1" cy="102.2" r="2.9"/><circle cx="173.9" cy="96.4" r="2.9"/><circle cx="176.4" cy="99.7" r="2.9"/><circle cx="178.9" cy="103" r="2.9"/><circle cx="181.4" cy="98" r="2.9"/><circle cx="184.7" cy="94.7" r="2.9"/><circle cx="186.4" cy="103" r="2.9"/><circle cx="189.7" cy="99.7" r="2.9"/><circle cx="193.1" cy="101.4" r="2.9"/><circle cx="196.4" cy="104.7" r="2.9"/><circle cx="200.5" cy="94.7" r="2.9"/><circle cx="202.2" cy="99.7" r="2.9"/><circle cx="204.7" cy="103" r="2.9"/><circle cx="207.2" cy="97.2" r="2.9"/><circle cx="208.8" cy="106.3" r="2.9"/><circle cx="203.3" cy="101.4" r="2.9"/><circle cx="205" cy="97.2" r="2.9"/><circle cx="202.5" cy="106.3" r="2.9"/><circle cx="206.6" cy="108.8" r="2.9"/><circle cx="213.3" cy="109.7" r="2.9"/><circle cx="293.1" cy="101.4" r="2.9"/><circle cx="294.7" cy="105.5" r="2.9"/><circle cx="289.7" cy="108.8" r="2.9"/><circle cx="296.4" cy="99.7" r="2.9"/><circle cx="299.7" cy="95.5" r="2.9"/><circle cx="301.4" cy="99.7" r="2.9"/><circle cx="303.9" cy="96.4" r="2.9"/><circle cx="306.3" cy="93.1" r="2.9"/><circle cx="308" cy="98" r="2.9"/><circle cx="309.7" cy="94.7" r="2.9"/><circle cx="78.6" cy="149.8" r="2.9"/><circle cx="79.6" cy="153.2" r="2.9"/><circle cx="80.4" cy="157.3" r="2.9"/><circle cx="83.6" cy="169" r="2.9"/><circle cx="84.9" cy="172.3" r="2.9"/><circle cx="86.2" cy="175.6" r="2.9"/><circle cx="87.4" cy="178.1" r="2.9"/><circle cx="88.7" cy="181.1" r="2.9"/><circle cx="90.7" cy="178.1" r="2.9"/><circle cx="91.9" cy="175.6" r="2.9"/><circle cx="97.9" cy="175.9" r="2.9"/><circle cx="98.5" cy="168.1" r="2.9"/><circle cx="99.9" cy="166.5" r="2.9"/><circle cx="100.7" cy="163.1" r="2.9"/><circle cx="99.5" cy="160.6" r="2.9"/><circle cx="101.5" cy="157.3" r="2.9"/><circle cx="104" cy="156.5" r="2.9"/><circle cx="103.2" cy="152.3" r="2.9"/><circle cx="104.8" cy="149" r="2.9"/><circle cx="107.3" cy="153.5" r="2.9"/><circle cx="105.7" cy="144.9" r="2.9"/><circle cx="108.2" cy="142.4" r="2.9"/><circle cx="112.3" cy="132.4" r="2.9"/><circle cx="113.2" cy="128.2" r="2.9"/><circle cx="114.8" cy="124.9" r="2.9"/><circle cx="119.8" cy="116.6" r="2.9"/><circle cx="117.3" cy="113.3" r="2.9"/><circle cx="124.8" cy="103.3" r="2.9"/><circle cx="153" cy="100.8" r="2.9"/><circle cx="155" cy="94" r="2.9"/><circle cx="156.6" cy="98.2" r="2.9"/><circle cx="160" cy="96.5" r="2.9"/><circle cx="162.5" cy="102.3" r="2.9"/><circle cx="164.1" cy="91.5" r="2.9"/><circle cx="170.8" cy="105.6" r="2.9"/><circle cx="174.1" cy="106.5" r="2.9"/><circle cx="176.6" cy="102.3" r="2.9"/><circle cx="179.1" cy="99" r="2.9"/><circle cx="184.1" cy="107.3" r="2.9"/><circle cx="187.4" cy="100.6" r="2.9"/><circle cx="174.9" cy="114.8" r="2.9"/><circle cx="177.4" cy="113.1" r="2.9"/><circle cx="186.6" cy="113.9" r="2.9"/><circle cx="190.7" cy="112.3" r="2.9"/><circle cx="194" cy="111.5" r="2.9"/><circle cx="199" cy="113.1" r="2.9"/><circle cx="199.8" cy="105.6" r="2.9"/><circle cx="206.5" cy="111.5" r="2.9"/><circle cx="209" cy="115.6" r="2.9"/><circle cx="210.6" cy="120.6" r="2.9"/><circle cx="212.3" cy="116.4" r="2.9"/><circle cx="204.8" cy="121.8" r="2.9"/><circle cx="217" cy="125.2" r="2.9"/><circle cx="218.6" cy="131.1" r="2.9"/><circle cx="219" cy="143" r="2.9"/><circle cx="221.1" cy="146.3" r="2.9"/><circle cx="222.7" cy="157.4" r="2.9"/><circle cx="221.6" cy="161.6" r="2.9"/><circle cx="224.9" cy="176.2" r="2.9"/><circle cx="225.7" cy="184.8" r="2.9"/><circle cx="226.9" cy="196.1" r="2.9"/><circle cx="228.2" cy="207.3" r="2.9"/><circle cx="229" cy="215.1" r="2.9"/><circle cx="229.9" cy="231.4" r="2.9"/><circle cx="231.5" cy="233.9" r="2.9"/><circle cx="268.1" cy="132" r="2.9"/><circle cx="273.1" cy="130" r="2.9"/><circle cx="267.3" cy="139.6" r="2.9"/><circle cx="265.6" cy="144.1" r="2.9"/><circle cx="264.4" cy="150.8" r="2.9"/><circle cx="262.8" cy="158.2" r="2.9"/><circle cx="261.5" cy="172.4" r="2.9"/><circle cx="260.6" cy="179" r="2.9"/><circle cx="259.8" cy="189" r="2.9"/><circle cx="257.8" cy="199" r="2.9"/><circle cx="257.3" cy="201.5" r="2.9"/><circle cx="257" cy="208.4" r="2.9"/><circle cx="254" cy="231.9" r="2.9"/><circle cx="253.1" cy="238.8" r="2.9"/><circle cx="231.9" cy="241.9" r="2.9"/><circle cx="233.7" cy="259.9" r="2.9"/><circle cx="234" cy="262.9" r="2.9"/><circle cx="234.5" cy="268.2" r="2.9"/><circle cx="234.9" cy="270.7" r="2.9"/><circle cx="235.2" cy="274.8" r="2.9"/><circle cx="235.7" cy="277.3" r="2.9"/><circle cx="236.2" cy="283.1" r="2.9"/><circle cx="236.5" cy="286.5" r="2.9"/><circle cx="237" cy="289.8" r="2.9"/><circle cx="237.9" cy="292.8" r="2.9"/><circle cx="239" cy="295.1" r="2.9"/><circle cx="239.8" cy="301.4" r="2.9"/><circle cx="240.7" cy="306.4" r="2.9"/><circle cx="241.2" cy="309.7" r="2.9"/><circle cx="242.3" cy="312.2" r="2.9"/><circle cx="254" cy="242.4" r="2.9"/><circle cx="252.3" cy="248.2" r="2.9"/><circle cx="253.1" cy="251.6" r="2.9"/><circle cx="251.8" cy="259.5" r="2.9"/><circle cx="251.5" cy="264.9" r="2.9"/><circle cx="250.6" cy="272.8" r="2.9"/><circle cx="248.5" cy="278.2" r="2.9"/><circle cx="248.2" cy="282.3" r="2.9"/><circle cx="247.8" cy="289" r="2.9"/><circle cx="246.8" cy="295.6" r="2.9"/><circle cx="246.5" cy="298.1" r="2.9"/><circle cx="243.2" cy="299.4" r="2.9"/><circle cx="244" cy="306.4" r="2.9"/><circle cx="243.2" cy="308.9" r="2.9"/><circle cx="264.9" cy="148.8" r="2.9"/><circle cx="270.7" cy="121.4" r="2.9"/><circle cx="272.4" cy="124.7" r="2.9"/><circle cx="274.9" cy="128.1" r="2.9"/><circle cx="276.5" cy="125.6" r="2.9"/><circle cx="279" cy="118.9" r="2.9"/><circle cx="279.9" cy="113.1" r="2.9"/><circle cx="282.4" cy="122.3" r="2.9"/><circle cx="283.2" cy="112.3" r="2.9"/><circle cx="284.8" cy="115.6" r="2.9"/><circle cx="287.3" cy="111.5" r="2.9"/><circle cx="289.8" cy="116.4" r="2.9"/><circle cx="292.3" cy="113.9" r="2.9"/><circle cx="294" cy="108.1" r="2.9"/><circle cx="311.4" cy="99" r="2.9"/><circle cx="314.8" cy="102.3" r="2.9"/><circle cx="317.3" cy="90.7" r="2.9"/><circle cx="316.4" cy="99" r="2.9"/><circle cx="320.6" cy="98.2" r="2.9"/><circle cx="322.2" cy="102.3" r="2.9"/><circle cx="323.1" cy="107.3" r="2.9"/><circle cx="298.1" cy="100.8" r="2.9"/><circle cx="138.5" cy="111" r="2.9"/><circle cx="143.1" cy="110.7" r="2.9"/><circle cx="143.5" cy="107.3" r="2.9"/><circle cx="143.1" cy="96.5" r="2.9"/><circle cx="143.1" cy="99.8" r="2.9"/><circle cx="144.8" cy="103.5" r="2.9"/><circle cx="148.5" cy="94.4" r="2.9"/><circle cx="145.6" cy="98.1" r="2.9"/><circle cx="148.4" cy="103.5" r="2.9"/><circle cx="151" cy="97.8" r="2.9"/><circle cx="154.3" cy="94.4" r="2.9"/><circle cx="157.2" cy="98.2" r="2.9"/><circle cx="158.1" cy="92.3" r="2.9"/><circle cx="160.5" cy="95.2" r="2.9"/><circle cx="161.8" cy="89.4" r="2.9"/><circle cx="162.2" cy="101.5" r="2.9"/><circle cx="164.8" cy="94.3" r="2.9"/><circle cx="167.2" cy="91" r="2.9"/><circle cx="170.6" cy="96.4" r="2.9"/><circle cx="173.5" cy="99.3" r="2.9"/><circle cx="176" cy="102.6" r="2.9"/><circle cx="176.5" cy="97.7" r="2.9"/><circle cx="180.2" cy="100.5" r="2.9"/><circle cx="181.5" cy="105.2" r="2.9"/><circle cx="184.4" cy="99.3" r="2.9"/><circle cx="189.8" cy="102.2" r="2.9"/><circle cx="199.4" cy="105.5" r="2.9"/><circle cx="201.3" cy="97.2" r="2.9"/><circle cx="204.7" cy="98.5" r="2.9"/><circle cx="202.3" cy="103" r="2.9"/><circle cx="206.8" cy="104.7" r="2.9"/><circle cx="211.1" cy="108" r="2.9"/><circle cx="207.7" cy="108.9" r="2.9"/><circle cx="204.5" cy="108.9" r="2.9"/><circle cx="212.8" cy="113.1" r="2.9"/><circle cx="196.5" cy="112.3" r="2.9"/><circle cx="209.8" cy="118.1" r="2.9"/><circle cx="207.7" cy="121.2" r="2.9"/></g><g fill="#000"><circle cx="71.6" cy="100.2" r="2.9"/><circle cx="73.6" cy="102.3" r="2.9"/><circle cx="77.1" cy="113.1" r="2.9"/><circle cx="77.9" cy="116.4" r="2.9"/><circle cx="78.8" cy="119.8" r="2.9"/><circle cx="79.6" cy="123.1" r="2.9"/><circle cx="80.4" cy="125.6" r="2.9"/><circle cx="84.1" cy="139.7" r="2.9"/><circle cx="84.9" cy="143" r="2.9"/><circle cx="86.6" cy="148.8" r="2.9"/><circle cx="97.9" cy="148" r="2.9"/><circle cx="98.5" cy="144.7" r="2.9"/><circle cx="99" cy="140.5" r="2.9"/><circle cx="99.9" cy="136.4" r="2.9"/><circle cx="100.7" cy="132.2" r="2.9"/><circle cx="102.4" cy="128.1" r="2.9"/><circle cx="103.5" cy="123.9" r="2.9"/><circle cx="104.5" cy="119.8" r="2.9"/><circle cx="105.7" cy="115.6" r="2.9"/><circle cx="106.5" cy="111.5" r="2.9"/><circle cx="107.3" cy="108.1" r="2.9"/><circle cx="108.2" cy="99.8" r="2.9"/><circle cx="110.7" cy="102.3" r="2.9"/><circle cx="111.5" cy="93.2" r="2.9"/><circle cx="114.8" cy="89" r="2.9"/><circle cx="119" cy="89.8" r="2.9"/><circle cx="126.5" cy="85.7" r="2.9"/><circle cx="116.5" cy="84.9" r="2.9"/><circle cx="119" cy="81.5" r="2.9"/><circle cx="116.5" cy="74.1" r="2.9"/><circle cx="121.5" cy="79" r="2.9"/><circle cx="123.1" cy="83.2" r="2.9"/><circle cx="120.6" cy="72.4" r="2.9"/><circle cx="124.8" cy="75.7" r="2.9"/><circle cx="127.3" cy="79.9" r="2.9"/><circle cx="128.1" cy="69.9" r="2.9"/><circle cx="129.8" cy="74.9" r="2.9"/><circle cx="132.3" cy="72.4" r="2.9"/><circle cx="134.8" cy="78.2" r="2.9"/><circle cx="132.3" cy="63.3" r="2.9"/><circle cx="133.9" cy="68.2" r="2.9"/><circle cx="136.4" cy="65.8" r="2.9"/><circle cx="137.3" cy="70.7" r="2.9"/><circle cx="139.7" cy="67.4" r="2.9"/><circle cx="141.4" cy="61.6" r="2.9"/><circle cx="143.1" cy="64.9" r="2.9"/><circle cx="145.6" cy="61.6" r="2.9"/><circle cx="146.4" cy="56.6" r="2.9"/><circle cx="148.1" cy="51.6" r="2.9"/><circle cx="150.5" cy="50.8" r="2.9"/><circle cx="149.7" cy="56.6" r="2.9"/><circle cx="152.2" cy="60.8" r="2.9"/><circle cx="153" cy="55" r="2.9"/><circle cx="154.7" cy="58.3" r="2.9"/><circle cx="157.2" cy="53.3" r="2.9"/><circle cx="158" cy="62.4" r="2.9"/><circle cx="159.7" cy="64.9" r="2.9"/><circle cx="161.3" cy="56.6" r="2.9"/><circle cx="162.2" cy="52.5" r="2.9"/><circle cx="163.8" cy="61.6" r="2.9"/><circle cx="163.8" cy="64.9" r="2.9"/><circle cx="175.1" cy="53.5" r="2.9"/><circle cx="130.7" cy="66.5" r="2.9"/><circle cx="139.9" cy="64" r="2.9"/><circle cx="144" cy="57.3" r="2.9"/><circle cx="149" cy="63.1" r="2.9"/><circle cx="152.3" cy="52.3" r="2.9"/><circle cx="155.7" cy="54.8" r="2.9"/><circle cx="159" cy="57.3" r="2.9"/><circle cx="165.6" cy="58.2" r="2.9"/><circle cx="166.5" cy="65.6" r="2.9"/><circle cx="168.1" cy="61.5" r="2.9"/><circle cx="169.8" cy="57.3" r="2.9"/><circle cx="171.5" cy="71.5" r="2.9"/><circle cx="173.1" cy="63.1" r="2.9"/><circle cx="174.8" cy="49" r="2.9"/><circle cx="175.6" cy="57.3" r="2.9"/><circle cx="176.4" cy="66.5" r="2.9"/><circle cx="177.3" cy="74.8" r="2.9"/><circle cx="178.9" cy="61.5" r="2.9"/><circle cx="179.8" cy="69.8" r="2.9"/><circle cx="181.4" cy="54.8" r="2.9"/><circle cx="182.3" cy="59" r="2.9"/><circle cx="183.1" cy="71.5" r="2.9"/><circle cx="186.4" cy="75.6" r="2.9"/><circle cx="187.2" cy="63.1" r="2.9"/><circle cx="190.6" cy="64.8" r="2.9"/><circle cx="193.1" cy="66.5" r="2.9"/><circle cx="194.7" cy="73.1" r="2.9"/><circle cx="197.2" cy="69" r="2.9"/><circle cx="198.9" cy="64" r="2.9"/><circle cx="200.5" cy="69.8" r="2.9"/><circle cx="203" cy="71.5" r="2.9"/><circle cx="205.5" cy="75.6" r="2.9"/><circle cx="208" cy="72.3" r="2.9"/><circle cx="208.8" cy="77.3" r="2.9"/><circle cx="210.8" cy="69" r="2.9"/><circle cx="211.6" cy="73.1" r="2.9"/><circle cx="213" cy="75.6" r="2.9"/><circle cx="216.6" cy="81.4" r="2.9"/><circle cx="218.3" cy="88.1" r="2.9"/><circle cx="221.3" cy="96.4" r="2.9"/><circle cx="221.6" cy="103" r="2.9"/><circle cx="223.3" cy="104.7" r="2.9"/><circle cx="264" cy="108.8" r="2.9"/><circle cx="266.1" cy="103.9" r="2.9"/><circle cx="267" cy="99.7" r="2.9"/><circle cx="267.8" cy="91.1" r="2.9"/><circle cx="269.8" cy="81.4" r="2.9"/><circle cx="271.5" cy="78.1" r="2.9"/><circle cx="273.1" cy="73.1" r="2.9"/><circle cx="274.8" cy="76.4" r="2.9"/><circle cx="275.6" cy="79.8" r="2.9"/><circle cx="278.1" cy="77.3" r="2.9"/><circle cx="279.8" cy="73.1" r="2.9"/><circle cx="281.8" cy="82.3" r="2.9"/><circle cx="283.1" cy="75.6" r="2.9"/><circle cx="284.7" cy="69.8" r="2.9"/><circle cx="286.4" cy="73.1" r="2.9"/><circle cx="288.1" cy="67.3" r="2.9"/><circle cx="289.7" cy="75.6" r="2.9"/><circle cx="291.4" cy="65.6" r="2.9"/><circle cx="293.1" cy="69" r="2.9"/><circle cx="294.7" cy="72.3" r="2.9"/><circle cx="296.4" cy="63.1" r="2.9"/><circle cx="298" cy="66.5" r="2.9"/><circle cx="299.7" cy="57.3" r="2.9"/><circle cx="301.4" cy="61.5" r="2.9"/><circle cx="303" cy="64" r="2.9"/><circle cx="305.5" cy="56.5" r="2.9"/><circle cx="307.2" cy="64" r="2.9"/><circle cx="308.8" cy="58.2" r="2.9"/><circle cx="309.7" cy="65.6" r="2.9"/><circle cx="87.4" cy="151.8" r="2.9"/><circle cx="89.1" cy="153.2" r="2.9"/><circle cx="91.6" cy="154" r="2.9"/><circle cx="107.3" cy="117.4" r="2.9"/><circle cx="109" cy="119.9" r="2.9"/><circle cx="152.5" cy="58.3" r="2.9"/><circle cx="184.1" cy="63.3" r="2.9"/><circle cx="194.9" cy="64.9" r="2.9"/><circle cx="199.8" cy="72.4" r="2.9"/><circle cx="225.1" cy="117.3" r="2.9"/><circle cx="225.6" cy="123.9" r="2.9"/><circle cx="226.8" cy="138" r="2.9"/><circle cx="258.8" cy="139.7" r="2.9"/><circle cx="228.5" cy="156.6" r="2.9"/><circle cx="229" cy="160.7" r="2.9"/><circle cx="229.5" cy="165.7" r="2.9"/><circle cx="230.7" cy="180.7" r="2.9"/><circle cx="231.2" cy="184" r="2.9"/><circle cx="231.5" cy="188.5" r="2.9"/><circle cx="232.4" cy="194.8" r="2.9"/><circle cx="233.7" cy="201.8" r="2.9"/><circle cx="234" cy="206.8" r="2.9"/><circle cx="234.9" cy="209.8" r="2.9"/><circle cx="235.7" cy="213.9" r="2.9"/><circle cx="236.9" cy="226" r="2.9"/><circle cx="237.9" cy="229.7" r="2.9"/><circle cx="247.3" cy="232.2" r="2.9"/><circle cx="246.5" cy="236.3" r="2.9"/><circle cx="243.2" cy="238" r="2.9"/><circle cx="260.6" cy="131.7" r="2.9"/><circle cx="261.1" cy="137" r="2.9"/><circle cx="259.5" cy="141.6" r="2.9"/><circle cx="258.1" cy="152.4" r="2.9"/><circle cx="257.3" cy="156.6" r="2.9"/><circle cx="256.8" cy="159.9" r="2.9"/><circle cx="256.8" cy="165.7" r="2.9"/><circle cx="256.1" cy="180.7" r="2.9"/><circle cx="254" cy="184" r="2.9"/><circle cx="254" cy="194" r="2.9"/><circle cx="252.8" cy="197.3" r="2.9"/><circle cx="251.8" cy="199.8" r="2.9"/><circle cx="251.5" cy="208.1" r="2.9"/><circle cx="250.6" cy="214.7" r="2.9"/><circle cx="248.5" cy="223.1" r="2.9"/><circle cx="248.5" cy="225.5" r="2.9"/><circle cx="239.8" cy="229.1" r="2.9"/><circle cx="245.8" cy="244.6" r="2.9"/><circle cx="241.8" cy="240.3" r="2.9"/><circle cx="244" cy="239.9" r="2.9"/><circle cx="240.7" cy="242.4" r="2.9"/><circle cx="241.5" cy="244.9" r="2.9"/><circle cx="245.7" cy="241.6" r="2.9"/><circle cx="243.2" cy="246.6" r="2.9"/><circle cx="242.8" cy="249.6" r="2.9"/><circle cx="261.6" cy="127.2" r="2.9"/><circle cx="263.6" cy="113.9" r="2.9"/><circle cx="272.4" cy="75.7" r="2.9"/><circle cx="276.5" cy="74.9" r="2.9"/><circle cx="303.1" cy="59.9" r="2.9"/><circle cx="309.8" cy="60.8" r="2.9"/><circle cx="313.1" cy="59.9" r="2.9"/><circle cx="315.6" cy="56.6" r="2.9"/><circle cx="317.3" cy="65.8" r="2.9"/><circle cx="319.7" cy="63.3" r="2.9"/><circle cx="322.2" cy="66.6" r="2.9"/><circle cx="323.1" cy="59.1" r="2.9"/><circle cx="263.2" cy="137.4" r="2.9"/><circle cx="109.3" cy="113.9" r="2.9"/><circle cx="109.9" cy="118.1" r="2.9"/><circle cx="108.1" cy="124.2" r="2.9"/><circle cx="143.9" cy="59.1" r="2.9"/><circle cx="146.1" cy="64" r="2.9"/><circle cx="147.6" cy="59.1" r="2.9"/><circle cx="147.2" cy="54.1" r="2.9"/><circle cx="149.7" cy="55.8" r="2.9"/><circle cx="153.8" cy="52" r="2.9"/><circle cx="152.7" cy="55.7" r="2.9"/><circle cx="155.1" cy="61.6" r="2.9"/><circle cx="156" cy="56.1" r="2.9"/><circle cx="151.8" cy="60.7" r="2.9"/><circle cx="159.2" cy="55" r="2.9"/><circle cx="159.7" cy="59.5" r="2.9"/><circle cx="160.9" cy="63.7" r="2.9"/><circle cx="163.9" cy="55.4" r="2.9"/><circle cx="166.8" cy="59.5" r="2.9"/><circle cx="165.9" cy="63.2" r="2.9"/><circle cx="172.4" cy="55.4" r="2.9"/><circle cx="178.2" cy="54.1" r="2.9"/><circle cx="169.8" cy="64.3" r="2.9"/><circle cx="171.4" cy="60.2" r="2.9"/><circle cx="173.9" cy="69" r="2.9"/><circle cx="174.4" cy="73.2" r="2.9"/><circle cx="176" cy="62.3" r="2.9"/><circle cx="177.2" cy="59.4" r="2.9"/><circle cx="178.6" cy="72.3" r="2.9"/><circle cx="180.2" cy="58.1" r="2.9"/><circle cx="181.5" cy="62.4" r="2.9"/><circle cx="184.8" cy="61" r="2.9"/><circle cx="184.8" cy="73.5" r="2.9"/><circle cx="190.1" cy="64.8" r="2.9"/><circle cx="193.9" cy="69.8" r="2.9"/><circle cx="196" cy="65.2" r="2.9"/><circle cx="197.6" cy="71.4" r="2.9"/><circle cx="199.7" cy="66.9" r="2.9"/><circle cx="205.5" cy="71.9" r="2.9"/><circle cx="208.6" cy="74.3" r="2.9"/><circle cx="202.7" cy="74" r="2.9"/><circle cx="211.9" cy="72.3" r="2.9"/></g><g fill="#00f"><circle cx="71.6" cy="60.8" r="2.9"/><circle cx="72.8" cy="63.3" r="2.9"/><circle cx="74.4" cy="65.8" r="2.9"/><circle cx="77.1" cy="79.9" r="2.9"/><circle cx="77.8" cy="82.9" r="2.9"/><circle cx="78.8" cy="89" r="2.9"/><circle cx="79.9" cy="92.8" r="2.9"/><circle cx="80.8" cy="96.8" r="2.9"/><circle cx="84.1" cy="111.8" r="2.9"/><circle cx="84.9" cy="115.1" r="2.9"/><circle cx="86.2" cy="118.4" r="2.9"/><circle cx="87.7" cy="121.8" r="2.9"/><circle cx="89.6" cy="124.7" r="2.9"/><circle cx="92.4" cy="123.9" r="2.9"/><circle cx="97.9" cy="111.8" r="2.9"/><circle cx="98.7" cy="108.5" r="2.9"/><circle cx="99.9" cy="104.8" r="2.9"/><circle cx="101.2" cy="101.1" r="2.9"/><circle cx="117.3" cy="53.6" r="2.9"/><circle cx="116.5" cy="43.7" r="2.9"/><circle cx="119" cy="42.5" r="2.9"/><circle cx="121.1" cy="46.1" r="2.9"/><circle cx="124" cy="41.3" r="2.9"/><circle cx="128.1" cy="40.5" r="2.9"/><circle cx="155.7" cy="21.6" r="2.9"/><circle cx="159.8" cy="23.3" r="2.9"/><circle cx="148.2" cy="24.9" r="2.9"/><circle cx="118.6" cy="39.9" r="2.9"/><circle cx="121.9" cy="37.4" r="2.9"/><circle cx="124.9" cy="30.7" r="2.9"/><circle cx="124.9" cy="35.7" r="2.9"/><circle cx="129.1" cy="34.1" r="2.9"/><circle cx="131.6" cy="39" r="2.9"/><circle cx="133.2" cy="29.9" r="2.9"/><circle cx="135.7" cy="27.4" r="2.9"/><circle cx="136.9" cy="33.2" r="2.9"/><circle cx="139.9" cy="29.9" r="2.9"/><circle cx="143.2" cy="18.3" r="2.9"/><circle cx="143.5" cy="24.9" r="2.9"/><circle cx="144.9" cy="29.1" r="2.9"/><circle cx="147.4" cy="22.4" r="2.9"/><circle cx="149.8" cy="20.8" r="2.9"/><circle cx="151.5" cy="24.9" r="2.9"/><circle cx="154.8" cy="17.4" r="2.9"/><circle cx="157.3" cy="15.8" r="2.9"/><circle cx="159" cy="19.9" r="2.9"/><circle cx="161.5" cy="16.6" r="2.9"/><circle cx="163.1" cy="23.3" r="2.9"/><circle cx="166.5" cy="24.9" r="2.9"/><circle cx="167.3" cy="13.3" r="2.9"/><circle cx="169" cy="18.3" r="2.9"/><circle cx="171.5" cy="16.6" r="2.9"/><circle cx="173.1" cy="21.6" r="2.9"/><circle cx="175.6" cy="15.8" r="2.9"/><circle cx="177.3" cy="26.6" r="2.9"/><circle cx="178.9" cy="18.3" r="2.9"/><circle cx="181.4" cy="12.5" r="2.9"/><circle cx="183.1" cy="16.6" r="2.9"/><circle cx="182.3" cy="23.3" r="2.9"/><circle cx="184.7" cy="21.6" r="2.9"/><circle cx="186.4" cy="24.9" r="2.9"/><circle cx="187.2" cy="30.7" r="2.9"/><circle cx="190.6" cy="32.4" r="2.9"/><circle cx="192.2" cy="25.8" r="2.9"/><circle cx="194.7" cy="28.2" r="2.9"/><circle cx="196.4" cy="34.9" r="2.9"/><circle cx="198.9" cy="24.9" r="2.9"/><circle cx="199.7" cy="30.7" r="2.9"/><circle cx="202.2" cy="33.2" r="2.9"/><circle cx="201.4" cy="38.2" r="2.9"/><circle cx="204.7" cy="35.7" r="2.9"/><circle cx="206.3" cy="39.9" r="2.9"/><circle cx="208.8" cy="42.4" r="2.9"/><circle cx="208.8" cy="47.4" r="2.9"/><circle cx="200.8" cy="26.6" r="2.9"/><circle cx="202.5" cy="30.7" r="2.9"/><circle cx="208.3" cy="39" r="2.9"/><circle cx="212.5" cy="39.9" r="2.9"/><circle cx="217.8" cy="53.2" r="2.9"/><circle cx="218.6" cy="62.8" r="2.9"/><circle cx="219.9" cy="64.8" r="2.9"/><circle cx="221.6" cy="71.5" r="2.9"/><circle cx="222.4" cy="74.8" r="2.9"/><circle cx="223.3" cy="85.1" r="2.9"/><circle cx="225.3" cy="99.7" r="2.9"/><circle cx="226.9" cy="105.5" r="2.9"/><circle cx="257.8" cy="105.5" r="2.9"/><circle cx="258.2" cy="101.4" r="2.9"/><circle cx="259" cy="97.2" r="2.9"/><circle cx="259.8" cy="94.7" r="2.9"/><circle cx="260.6" cy="86.1" r="2.9"/><circle cx="261.5" cy="79.4" r="2.9"/><circle cx="262.3" cy="72.3" r="2.9"/><circle cx="263.5" cy="69" r="2.9"/><circle cx="266.1" cy="61.5" r="2.9"/><circle cx="267" cy="58.2" r="2.9"/><circle cx="267.8" cy="54" r="2.9"/><circle cx="269.8" cy="44.9" r="2.9"/><circle cx="271.8" cy="46.5" r="2.9"/><circle cx="273.1" cy="49.8" r="2.9"/><circle cx="275.6" cy="43.2" r="2.9"/><circle cx="277.3" cy="40.7" r="2.9"/><circle cx="280.3" cy="35.4" r="2.9"/><circle cx="281.4" cy="39.9" r="2.9"/><circle cx="281.9" cy="44" r="2.9"/><circle cx="286.9" cy="23.3" r="2.9"/><circle cx="288.1" cy="29.9" r="2.9"/><circle cx="290.6" cy="32.4" r="2.9"/><circle cx="293.1" cy="24.9" r="2.9"/><circle cx="293.1" cy="35.7" r="2.9"/><circle cx="295.5" cy="26.6" r="2.9"/><circle cx="298" cy="32.4" r="2.9"/><circle cx="299.7" cy="25.8" r="2.9"/><circle cx="301.4" cy="29.9" r="2.9"/><circle cx="303.9" cy="24.9" r="2.9"/><circle cx="305.5" cy="28.2" r="2.9"/><circle cx="308" cy="21.6" r="2.9"/><circle cx="199.8" cy="40" r="2.9"/><circle cx="211.5" cy="41.7" r="2.9"/><circle cx="227.3" cy="120.6" r="2.9"/><circle cx="228.9" cy="123.1" r="2.9"/><circle cx="229.8" cy="128.9" r="2.9"/><circle cx="230.6" cy="133.9" r="2.9"/><circle cx="231.4" cy="138" r="2.9"/><circle cx="231.8" cy="140.5" r="2.9"/><circle cx="232.3" cy="146.3" r="2.9"/><circle cx="256.3" cy="113.1" r="2.9"/><circle cx="256.7" cy="118.1" r="2.9"/><circle cx="254.4" cy="129.7" r="2.9"/><circle cx="253.4" cy="144.7" r="2.9"/><circle cx="259.7" cy="73.2" r="2.9"/><circle cx="230.4" cy="130.8" r="2.9"/><circle cx="233.7" cy="157.4" r="2.9"/><circle cx="234.4" cy="161.6" r="2.9"/><circle cx="234.9" cy="165.7" r="2.9"/><circle cx="235.4" cy="173.7" r="2.9"/><circle cx="236.2" cy="179" r="2.9"/><circle cx="237.4" cy="187.3" r="2.9"/><circle cx="239.5" cy="192.8" r="2.9"/><circle cx="240.7" cy="197.8" r="2.9"/><circle cx="242.8" cy="199.5" r="2.9"/><circle cx="239" cy="204.8" r="2.9"/><circle cx="243.2" cy="203.9" r="2.9"/><circle cx="252.8" cy="150.8" r="2.9"/><circle cx="251.8" cy="159.9" r="2.9"/><circle cx="250.6" cy="166.2" r="2.9"/><circle cx="248.5" cy="175.7" r="2.9"/><circle cx="247.8" cy="179.5" r="2.9"/><circle cx="247.3" cy="182.8" r="2.9"/><circle cx="246.5" cy="191.1" r="2.9"/><circle cx="279.9" cy="42.5" r="2.9"/><circle cx="274.9" cy="50.8" r="2.9"/><circle cx="251.6" cy="148.8" r="2.9"/><circle cx="306" cy="23.8" r="2.9"/><circle cx="309.7" cy="20.1" r="2.9"/><circle cx="312.3" cy="27" r="2.9"/><circle cx="314.4" cy="29.6" r="2.9"/><circle cx="316" cy="28" r="2.9"/><circle cx="317.6" cy="18" r="2.9"/><circle cx="318.1" cy="22.2" r="2.9"/><circle cx="320.8" cy="23.8" r="2.9"/><circle cx="322.3" cy="20.1" r="2.9"/><circle cx="322.9" cy="28" r="2.9"/><circle cx="319.7" cy="26.4" r="2.9"/><circle cx="276.3" cy="45.5" r="2.9"/><circle cx="274.2" cy="44.9" r="2.9"/><circle cx="271.1" cy="50.8" r="2.9"/><circle cx="270.5" cy="53.9" r="2.9"/><circle cx="100.9" cy="110" r="2.9"/><circle cx="103.5" cy="89.9" r="2.9"/><circle cx="104.5" cy="85.7" r="2.9"/><circle cx="106" cy="77.4" r="2.9"/><circle cx="107.2" cy="75" r="2.9"/><circle cx="108.2" cy="72.9" r="2.9"/><circle cx="109.8" cy="67.9" r="2.9"/><circle cx="108.8" cy="64.9" r="2.9"/><circle cx="111" cy="58.3" r="2.9"/><circle cx="113.5" cy="51.6" r="2.9"/><circle cx="121.5" cy="41.9" r="2.9"/><circle cx="124.5" cy="38.5" r="2.9"/><circle cx="128.6" cy="37.3" r="2.9"/><circle cx="152.8" cy="21.2" r="2.9"/><circle cx="156.5" cy="18.7" r="2.9"/><circle cx="159.4" cy="22.5" r="2.9"/><circle cx="163.2" cy="24.1" r="2.9"/><circle cx="146.6" cy="27" r="2.9"/><circle cx="123.4" cy="34" r="2.9"/><circle cx="127" cy="32.4" r="2.9"/><circle cx="131.1" cy="32" r="2.9"/><circle cx="136.6" cy="29.9" r="2.9"/><circle cx="141.7" cy="27.4" r="2.9"/><circle cx="143.3" cy="21.6" r="2.9"/><circle cx="146.5" cy="19.6" r="2.9"/><circle cx="146.7" cy="22.9" r="2.9"/><circle cx="162.3" cy="20" r="2.9"/><circle cx="164.4" cy="15" r="2.9"/><circle cx="167.8" cy="21.6" r="2.9"/><circle cx="168.2" cy="15.8" r="2.9"/><circle cx="171.1" cy="20" r="2.9"/><circle cx="172.3" cy="17.1" r="2.9"/><circle cx="175.2" cy="24.1" r="2.9"/><circle cx="176" cy="20" r="2.9"/><circle cx="178.5" cy="14.2" r="2.9"/><circle cx="179.8" cy="25" r="2.9"/><circle cx="180.6" cy="20.8" r="2.9"/><circle cx="183.9" cy="19.1" r="2.9"/><circle cx="186.8" cy="27.8" r="2.9"/><circle cx="189.3" cy="25.4" r="2.9"/><circle cx="191.4" cy="29.1" r="2.9"/><circle cx="193.5" cy="33.6" r="2.9"/><circle cx="195.6" cy="25.4" r="2.9"/><circle cx="197.2" cy="29.4" r="2.9"/><circle cx="198.1" cy="32.8" r="2.9"/><circle cx="198.9" cy="36.5" r="2.9"/><circle cx="200.7" cy="27.8" r="2.9"/><circle cx="202.2" cy="33.2" r="2.9"/><circle cx="203.9" cy="39" r="2.9"/><circle cx="209.4" cy="39.9" r="2.9"/><circle cx="210.2" cy="44.5" r="2.9"/></g></g>
<g fill="none" stroke-width="0.85"><path stroke="#f00" d="M85 428.7l3.6 3.6m0-3.6l-3.6 3.6M87 423.9l3.6 3.6m0-3.6l-3.6 3.6M90.4 420.5l3.6 3.6m0-3.6l-3.6 3.6M92.5 419.9l3.6 3.6m0-3.6l-3.6 3.6M94.5 414.4l3.6 3.6m0-3.6l-3.6 3.6M97.9 408.3l3.6 3.6m0-3.6l-3.6 3.6M100 406l3.6 3.6m0-3.6l-3.6 3.6M104.7 402.9l3.6 3.6m0-3.6l-3.6 3.6M106.1 404.6l3.6 3.6m0-3.6l-3.6 3.6M107.4 408.3l3.6 3.6m0-3.6l-3.6 3.6M109.2 398.1l3.6 3.6m0-3.6l-3.6 3.6M111.5 407.6l3.6 3.6m0-3.6l-3.6 3.6M113.5 404.9l3.6 3.6m0-3.6l-3.6 3.6M116.9 396.7l3.6 3.6m0-3.6l-3.6 3.6M119 392.7l3.6 3.6m0-3.6l-3.6 3.6M120.3 398.8l3.6 3.6m0-3.6l-3.6 3.6M123.1 394.7l3.6 3.6m0-3.6l-3.6 3.6M125.8 396.7l3.6 3.6m0-3.6l-3.6 3.6M127.8 397.4l3.6 3.6m0-3.6l-3.6 3.6M130.5 398.8l3.6 3.6m0-3.6l-3.6 3.6M131.9 400.8l3.6 3.6m0-3.6l-3.6 3.6M135 384.9l3.6 3.6m0-3.6l-3.6 3.6M138 392l3.6 3.6m0-3.6l-3.6 3.6M141.4 385.2l3.6 3.6m0-3.6l-3.6 3.6M143.5 384.5l3.6 3.6m0-3.6l-3.6 3.6M145.5 390.6l3.6 3.6m0-3.6l-3.6 3.6M148.9 389.3l3.6 3.6m0-3.6l-3.6 3.6M150.3 390l3.6 3.6m0-3.6l-3.6 3.6M155 385.9l3.6 3.6m0-3.6l-3.6 3.6M156.4 390.6l3.6 3.6m0-3.6l-3.6 3.6M158.4 392.7l3.6 3.6m0-3.6l-3.6 3.6M161.1 396.1l3.6 3.6m0-3.6l-3.6 3.6M166.6 397.4l3.6 3.6m0-3.6l-3.6 3.6M158.9 390l3.6 3.6m0-3.6l-3.6 3.6M167.7 394l3.6 3.6m0-3.6l-3.6 3.6M167.7 397.4l3.6 3.6m0-3.6l-3.6 3.6M171.1 397.4l3.6 3.6m0-3.6l-3.6 3.6M173.2 398.8l3.6 3.6m0-3.6l-3.6 3.6M175.2 398.1l3.6 3.6m0-3.6l-3.6 3.6M178.6 393.4l3.6 3.6m0-3.6l-3.6 3.6M180.6 396.1l3.6 3.6m0-3.6l-3.6 3.6M182.7 395.4l3.6 3.6m0-3.6l-3.6 3.6M184.7 404.9l3.6 3.6m0-3.6l-3.6 3.6M186.1 407.6l3.6 3.6m0-3.6l-3.6 3.6M187.4 402.9l3.6 3.6m0-3.6l-3.6 3.6M188.8 403.5l3.6 3.6m0-3.6l-3.6 3.6M190.1 397.4l3.6 3.6m0-3.6l-3.6 3.6M192.9 399.5l3.6 3.6m0-3.6l-3.6 3.6M194.9 398.8l3.6 3.6m0-3.6l-3.6 3.6M196.9 397.4l3.6 3.6m0-3.6l-3.6 3.6M199 400.1l3.6 3.6m0-3.6l-3.6 3.6M201.7 407.6l3.6 3.6m0-3.6l-3.6 3.6M203.7 411l3.6 3.6m0-3.6l-3.6 3.6M205.8 414.4l3.6 3.6m0-3.6l-3.6 3.6M207.1 417.1l3.6 3.6m0-3.6l-3.6 3.6M209.2 402.2l3.6 3.6m0-3.6l-3.6 3.6M210.5 404.9l3.6 3.6m0-3.6l-3.6 3.6M211.2 409l3.6 3.6m0-3.6l-3.6 3.6M216 408.3l3.6 3.6m0-3.6l-3.6 3.6M221.4 412.8l3.6 3.6m0-3.6l-3.6 3.6M223.5 428l3.6 3.6m0-3.6l-3.6 3.6M226.2 426l3.6 3.6m0-3.6l-3.6 3.6M230.9 441.6l3.6 3.6m0-3.6l-3.6 3.6M232.3 436.2l3.6 3.6m0-3.6l-3.6 3.6M235.7 445l3.6 3.6m0-3.6l-3.6 3.6M236.4 436.9l3.6 3.6m0-3.6l-3.6 3.6M238.4 437.5l3.6 3.6m0-3.6l-3.6 3.6M241.1 435.5l3.6 3.6m0-3.6l-3.6 3.6M245.2 448.4l3.6 3.6m0-3.6l-3.6 3.6M247.2 452.5l3.6 3.6m0-3.6l-3.6 3.6M233.9 436.6l3.6 3.6m0-3.6l-3.6 3.6M239.3 435.2l3.6 3.6m0-3.6l-3.6 3.6M244.8 443.4l3.6 3.6m0-3.6l-3.6 3.6M245.4 449.5l3.6 3.6m0-3.6l-3.6 3.6M249.5 452.9l3.6 3.6m0-3.6l-3.6 3.6M252.2 458.3l3.6 3.6m0-3.6l-3.6 3.6M257 444.7l3.6 3.6m0-3.6l-3.6 3.6M257 464.4l3.6 3.6m0-3.6l-3.6 3.6M259.7 454.2l3.6 3.6m0-3.6l-3.6 3.6M263.8 467.8l3.6 3.6m0-3.6l-3.6 3.6M265.8 468.5l3.6 3.6m0-3.6l-3.6 3.6M266.5 465.8l3.6 3.6m0-3.6l-3.6 3.6M269.2 463.1l3.6 3.6m0-3.6l-3.6 3.6M268.5 471.2l3.6 3.6m0-3.6l-3.6 3.6M272.6 473.3l3.6 3.6m0-3.6l-3.6 3.6M275.3 477.3l3.6 3.6m0-3.6l-3.6 3.6M270.2 482.8l3.6 3.6m0-3.6l-3.6 3.6M277.1 483.9l3.6 3.6m0-3.6l-3.6 3.6M281.5 497.5l3.6 3.6m0-3.6l-3.6 3.6M284.2 497.7l3.6 3.6m0-3.6l-3.6 3.6M279.4 503.8l3.6 3.6m0-3.6l-3.6 3.6M292.3 505.9l3.6 3.6m0-3.6l-3.6 3.6M294.5 519.3l3.6 3.6m0-3.6l-3.6 3.6M297.2 521.6l3.6 3.6m0-3.6l-3.6 3.6M298.6 522.7l3.6 3.6m0-3.6l-3.6 3.6M300 522.4l3.6 3.6m0-3.6l-3.6 3.6M294.8 528.1l3.6 3.6m0-3.6l-3.6 3.6M300.2 526.7l3.6 3.6m0-3.6l-3.6 3.6M302.3 536.7l3.6 3.6m0-3.6l-3.6 3.6M304.4 548.1l3.6 3.6m0-3.6l-3.6 3.6M306.7 555.3l3.6 3.6m0-3.6l-3.6 3.6M314.6 554.3l3.6 3.6m0-3.6l-3.6 3.6M316.9 561.4l3.6 3.6m0-3.6l-3.6 3.6M319 562.8l3.6 3.6m0-3.6l-3.6 3.6M321.7 561.8l3.6 3.6m0-3.6l-3.6 3.6M324.4 567.5l3.6 3.6m0-3.6l-3.6 3.6M327.1 564.1l3.6 3.6m0-3.6l-3.6 3.6M329.6 561l3.6 3.6m0-3.6l-3.6 3.6M331.9 567.5l3.6 3.6m0-3.6l-3.6 3.6M309.5 571.6l3.6 3.6m0-3.6l-3.6 3.6M323.1 576.4l3.6 3.6m0-3.6l-3.6 3.6M325.1 576.4l3.6 3.6m0-3.6l-3.6 3.6M338.7 526.3l3.6 3.6m0-3.6l-3.6 3.6M334.2 545.1l3.6 3.6m0-3.6l-3.6 3.6M342.1 498.9l3.6 3.6m0-3.6l-3.6 3.6M355.1 451.2l3.6 3.6m0-3.6l-3.6 3.6M349.7 476.9l3.6 3.6m0-3.6l-3.6 3.6M347.7 480.1l3.6 3.6m0-3.6l-3.6 3.6M345.6 483.7l3.6 3.6m0-3.6l-3.6 3.6M341.6 499.8l3.6 3.6m0-3.6l-3.6 3.6M357.2 435.9l3.6 3.6m0-3.6l-3.6 3.6"/><path stroke="#00f" d="M88.4 428.7l3.6 3.6m0-3.6l-3.6 3.6M89.8 426l3.6 3.6m0-3.6l-3.6 3.6M92.5 420.5l3.6 3.6m0-3.6l-3.6 3.6M95.9 415.1l3.6 3.6m0-3.6l-3.6 3.6M98.6 414.4l3.6 3.6m0-3.6l-3.6 3.6M106.7 416.5l3.6 3.6m0-3.6l-3.6 3.6M110.8 413.1l3.6 3.6m0-3.6l-3.6 3.6M107.4 408.3l3.6 3.6m0-3.6l-3.6 3.6M110.1 407.6l3.6 3.6m0-3.6l-3.6 3.6M111.5 399.5l3.6 3.6m0-3.6l-3.6 3.6M110.8 404.2l3.6 3.6m0-3.6l-3.6 3.6M114.2 395.4l3.6 3.6m0-3.6l-3.6 3.6M114.9 398.8l3.6 3.6m0-3.6l-3.6 3.6M117.6 404.9l3.6 3.6m0-3.6l-3.6 3.6M118.3 400.8l3.6 3.6m0-3.6l-3.6 3.6M121.7 409.7l3.6 3.6m0-3.6l-3.6 3.6M122.4 406.9l3.6 3.6m0-3.6l-3.6 3.6M123.7 394l3.6 3.6m0-3.6l-3.6 3.6M125.1 398.8l3.6 3.6m0-3.6l-3.6 3.6M126.5 397.4l3.6 3.6m0-3.6l-3.6 3.6M128.5 413.7l3.6 3.6m0-3.6l-3.6 3.6M129.2 403.5l3.6 3.6m0-3.6l-3.6 3.6M130.5 402.2l3.6 3.6m0-3.6l-3.6 3.6M132.6 402.9l3.6 3.6m0-3.6l-3.6 3.6M133.9 404.9l3.6 3.6m0-3.6l-3.6 3.6M133.3 392l3.6 3.6m0-3.6l-3.6 3.6M135.3 392.7l3.6 3.6m0-3.6l-3.6 3.6M136.7 394l3.6 3.6m0-3.6l-3.6 3.6M138 392.7l3.6 3.6m0-3.6l-3.6 3.6M139.4 387.2l3.6 3.6m0-3.6l-3.6 3.6M142.1 386.6l3.6 3.6m0-3.6l-3.6 3.6M144.8 396.1l3.6 3.6m0-3.6l-3.6 3.6M147.5 393.4l3.6 3.6m0-3.6l-3.6 3.6M152.3 377.7l3.6 3.6m0-3.6l-3.6 3.6M152.3 387.2l3.6 3.6m0-3.6l-3.6 3.6M153 394l3.6 3.6m0-3.6l-3.6 3.6M155 392l3.6 3.6m0-3.6l-3.6 3.6M157.1 395.4l3.6 3.6m0-3.6l-3.6 3.6M157.1 399.5l3.6 3.6m0-3.6l-3.6 3.6M159.8 390l3.6 3.6m0-3.6l-3.6 3.6M162.5 389.3l3.6 3.6m0-3.6l-3.6 3.6M163.2 393.4l3.6 3.6m0-3.6l-3.6 3.6M165.9 383.8l3.6 3.6m0-3.6l-3.6 3.6M166.6 402.2l3.6 3.6m0-3.6l-3.6 3.6M158.9 394l3.6 3.6m0-3.6l-3.6 3.6M169.8 400.1l3.6 3.6m0-3.6l-3.6 3.6M171.8 402.2l3.6 3.6m0-3.6l-3.6 3.6M173.2 390l3.6 3.6m0-3.6l-3.6 3.6M175.9 390l3.6 3.6m0-3.6l-3.6 3.6M177.9 404.2l3.6 3.6m0-3.6l-3.6 3.6M178.6 396.1l3.6 3.6m0-3.6l-3.6 3.6M181.3 398.1l3.6 3.6m0-3.6l-3.6 3.6M183.4 393.4l3.6 3.6m0-3.6l-3.6 3.6M185.4 395.4l3.6 3.6m0-3.6l-3.6 3.6M187.4 392l3.6 3.6m0-3.6l-3.6 3.6M188.8 394l3.6 3.6m0-3.6l-3.6 3.6M190.8 398.8l3.6 3.6m0-3.6l-3.6 3.6M192.9 396.1l3.6 3.6m0-3.6l-3.6 3.6M194.2 400.8l3.6 3.6m0-3.6l-3.6 3.6M196.9 402.9l3.6 3.6m0-3.6l-3.6 3.6M197.6 400.1l3.6 3.6m0-3.6l-3.6 3.6M200.3 396.1l3.6 3.6m0-3.6l-3.6 3.6M201 401.5l3.6 3.6m0-3.6l-3.6 3.6M202.4 409.7l3.6 3.6m0-3.6l-3.6 3.6M205.1 404.9l3.6 3.6m0-3.6l-3.6 3.6M205.8 408.3l3.6 3.6m0-3.6l-3.6 3.6M207.8 412.4l3.6 3.6m0-3.6l-3.6 3.6M209.9 413.1l3.6 3.6m0-3.6l-3.6 3.6M210.5 415.8l3.6 3.6m0-3.6l-3.6 3.6M213.3 419.9l3.6 3.6m0-3.6l-3.6 3.6M214.6 424.6l3.6 3.6m0-3.6l-3.6 3.6M218 419.2l3.6 3.6m0-3.6l-3.6 3.6M219.4 420.5l3.6 3.6m0-3.6l-3.6 3.6M221.4 419.9l3.6 3.6m0-3.6l-3.6 3.6M223.5 421.2l3.6 3.6m0-3.6l-3.6 3.6M224.8 422.6l3.6 3.6m0-3.6l-3.6 3.6M226.2 423.3l3.6 3.6m0-3.6l-3.6 3.6M227.5 420.5l3.6 3.6m0-3.6l-3.6 3.6M228.9 418.5l3.6 3.6m0-3.6l-3.6 3.6M228.2 425.3l3.6 3.6m0-3.6l-3.6 3.6M234.3 423.3l3.6 3.6m0-3.6l-3.6 3.6M233.7 430.1l3.6 3.6m0-3.6l-3.6 3.6M235.7 428l3.6 3.6m0-3.6l-3.6 3.6M239.8 432.8l3.6 3.6m0-3.6l-3.6 3.6M240.5 434.8l3.6 3.6m0-3.6l-3.6 3.6M242.5 438.2l3.6 3.6m0-3.6l-3.6 3.6M243.8 440.3l3.6 3.6m0-3.6l-3.6 3.6M245.2 444.3l3.6 3.6m0-3.6l-3.6 3.6M246.6 447.1l3.6 3.6m0-3.6l-3.6 3.6M247.2 449.8l3.6 3.6m0-3.6l-3.6 3.6M234.6 428.4l3.6 3.6m0-3.6l-3.6 3.6M238.6 433.2l3.6 3.6m0-3.6l-3.6 3.6M240 431.8l3.6 3.6m0-3.6l-3.6 3.6M246.8 445.4l3.6 3.6m0-3.6l-3.6 3.6M244.8 448.1l3.6 3.6m0-3.6l-3.6 3.6M249.5 446.7l3.6 3.6m0-3.6l-3.6 3.6M250.2 444l3.6 3.6m0-3.6l-3.6 3.6M252.9 443.4l3.6 3.6m0-3.6l-3.6 3.6M252.2 450.1l3.6 3.6m0-3.6l-3.6 3.6M248.2 454.2l3.6 3.6m0-3.6l-3.6 3.6M256.3 458.3l3.6 3.6m0-3.6l-3.6 3.6M257 460.3l3.6 3.6m0-3.6l-3.6 3.6M259 458.3l3.6 3.6m0-3.6l-3.6 3.6M261.1 456.9l3.6 3.6m0-3.6l-3.6 3.6M262.4 458.3l3.6 3.6m0-3.6l-3.6 3.6M265.1 461.7l3.6 3.6m0-3.6l-3.6 3.6M266.5 471.2l3.6 3.6m0-3.6l-3.6 3.6M267.2 469.9l3.6 3.6m0-3.6l-3.6 3.6M338.7 503.6l3.6 3.6m0-3.6l-3.6 3.6M340.1 503l3.6 3.6m0-3.6l-3.6 3.6M335 536.5l3.6 3.6m0-3.6l-3.6 3.6M334.2 544.7l3.6 3.6m0-3.6l-3.6 3.6M329.2 565.5l3.6 3.6m0-3.6l-3.6 3.6M330.5 570.3l3.6 3.6m0-3.6l-3.6 3.6M317.6 573.7l3.6 3.6m0-3.6l-3.6 3.6M321 573.7l3.6 3.6m0-3.6l-3.6 3.6M324.2 583.6l3.6 3.6m0-3.6l-3.6 3.6M325.8 585.2l3.6 3.6m0-3.6l-3.6 3.6M343.6 496.4l3.6 3.6m0-3.6l-3.6 3.6M345 491.6l3.6 3.6m0-3.6l-3.6 3.6M348.8 468.9l3.6 3.6m0-3.6l-3.6 3.6M349.7 462.4l3.6 3.6m0-3.6l-3.6 3.6M353.4 445.4l3.6 3.6m0-3.6l-3.6 3.6M354.7 435.6l3.6 3.6m0-3.6l-3.6 3.6M358.4 426l3.6 3.6m0-3.6l-3.6 3.6M359 431.4l3.6 3.6m0-3.6l-3.6 3.6"/></g>
<g fill="none" stroke-width="0.85" transform="translate(274.4 0)"><path stroke="#f00" d="M85 428.7l3.6 3.6m0-3.6l-3.6 3.6M87 423.9l3.6 3.6m0-3.6l-3.6 3.6M90.4 420.5l3.6 3.6m0-3.6l-3.6 3.6M92.5 419.9l3.6 3.6m0-3.6l-3.6 3.6M94.5 414.4l3.6 3.6m0-3.6l-3.6 3.6M97.9 408.3l3.6 3.6m0-3.6l-3.6 3.6M100 406l3.6 3.6m0-3.6l-3.6 3.6M104.7 402.9l3.6 3.6m0-3.6l-3.6 3.6M106.1 404.6l3.6 3.6m0-3.6l-3.6 3.6M107.4 408.3l3.6 3.6m0-3.6l-3.6 3.6M109.2 398.1l3.6 3.6m0-3.6l-3.6 3.6M111.5 407.6l3.6 3.6m0-3.6l-3.6 3.6M113.5 404.9l3.6 3.6m0-3.6l-3.6 3.6M116.9 396.7l3.6 3.6m0-3.6l-3.6 3.6M119 392.7l3.6 3.6m0-3.6l-3.6 3.6M120.3 398.8l3.6 3.6m0-3.6l-3.6 3.6M123.1 394.7l3.6 3.6m0-3.6l-3.6 3.6M125.8 396.7l3.6 3.6m0-3.6l-3.6 3.6M127.8 397.4l3.6 3.6m0-3.6l-3.6 3.6M130.5 398.8l3.6 3.6m0-3.6l-3.6 3.6M131.9 400.8l3.6 3.6m0-3.6l-3.6 3.6M135 384.9l3.6 3.6m0-3.6l-3.6 3.6M138 392l3.6 3.6m0-3.6l-3.6 3.6M141.4 385.2l3.6 3.6m0-3.6l-3.6 3.6M143.5 384.5l3.6 3.6m0-3.6l-3.6 3.6M145.5 390.6l3.6 3.6m0-3.6l-3.6 3.6M148.9 389.3l3.6 3.6m0-3.6l-3.6 3.6M150.3 390l3.6 3.6m0-3.6l-3.6 3.6M155 385.9l3.6 3.6m0-3.6l-3.6 3.6M156.4 390.6l3.6 3.6m0-3.6l-3.6 3.6M158.4 392.7l3.6 3.6m0-3.6l-3.6 3.6M161.1 396.1l3.6 3.6m0-3.6l-3.6 3.6M166.6 397.4l3.6 3.6m0-3.6l-3.6 3.6M158.9 390l3.6 3.6m0-3.6l-3.6 3.6M167.7 394l3.6 3.6m0-3.6l-3.6 3.6M167.7 397.4l3.6 3.6m0-3.6l-3.6 3.6M171.1 397.4l3.6 3.6m0-3.6l-3.6 3.6M173.2 398.8l3.6 3.6m0-3.6l-3.6 3.6M175.2 398.1l3.6 3.6m0-3.6l-3.6 3.6M178.6 393.4l3.6 3.6m0-3.6l-3.6 3.6M180.6 396.1l3.6 3.6m0-3.6l-3.6 3.6M182.7 395.4l3.6 3.6m0-3.6l-3.6 3.6M184.7 404.9l3.6 3.6m0-3.6l-3.6 3.6M186.1 407.6l3.6 3.6m0-3.6l-3.6 3.6M187.4 402.9l3.6 3.6m0-3.6l-3.6 3.6M188.8 403.5l3.6 3.6m0-3.6l-3.6 3.6M190.1 397.4l3.6 3.6m0-3.6l-3.6 3.6M192.9 399.5l3.6 3.6m0-3.6l-3.6 3.6M194.9 398.8l3.6 3.6m0-3.6l-3.6 3.6M196.9 397.4l3.6 3.6m0-3.6l-3.6 3.6M199 400.1l3.6 3.6m0-3.6l-3.6 3.6M201.7 407.6l3.6 3.6m0-3.6l-3.6 3.6M203.7 411l3.6 3.6m0-3.6l-3.6 3.6M205.8 414.4l3.6 3.6m0-3.6l-3.6 3.6M207.1 417.1l3.6 3.6m0-3.6l-3.6 3.6M209.2 402.2l3.6 3.6m0-3.6l-3.6 3.6M210.5 404.9l3.6 3.6m0-3.6l-3.6 3.6M211.2 409l3.6 3.6m0-3.6l-3.6 3.6M216 408.3l3.6 3.6m0-3.6l-3.6 3.6M221.4 412.8l3.6 3.6m0-3.6l-3.6 3.6M223.5 428l3.6 3.6m0-3.6l-3.6 3.6M226.2 426l3.6 3.6m0-3.6l-3.6 3.6M230.9 441.6l3.6 3.6m0-3.6l-3.6 3.6M232.3 436.2l3.6 3.6m0-3.6l-3.6 3.6M235.7 445l3.6 3.6m0-3.6l-3.6 3.6M236.4 436.9l3.6 3.6m0-3.6l-3.6 3.6M238.4 437.5l3.6 3.6m0-3.6l-3.6 3.6M241.1 435.5l3.6 3.6m0-3.6l-3.6 3.6M245.2 448.4l3.6 3.6m0-3.6l-3.6 3.6M247.2 452.5l3.6 3.6m0-3.6l-3.6 3.6M233.9 436.6l3.6 3.6m0-3.6l-3.6 3.6M239.3 435.2l3.6 3.6m0-3.6l-3.6 3.6M244.8 443.4l3.6 3.6m0-3.6l-3.6 3.6M245.4 449.5l3.6 3.6m0-3.6l-3.6 3.6M249.5 452.9l3.6 3.6m0-3.6l-3.6 3.6M252.2 458.3l3.6 3.6m0-3.6l-3.6 3.6M257 444.7l3.6 3.6m0-3.6l-3.6 3.6M257 464.4l3.6 3.6m0-3.6l-3.6 3.6M259.7 454.2l3.6 3.6m0-3.6l-3.6 3.6M263.8 467.8l3.6 3.6m0-3.6l-3.6 3.6M265.8 468.5l3.6 3.6m0-3.6l-3.6 3.6M266.5 465.8l3.6 3.6m0-3.6l-3.6 3.6M269.2 463.1l3.6 3.6m0-3.6l-3.6 3.6M268.5 471.2l3.6 3.6m0-3.6l-3.6 3.6M272.6 473.3l3.6 3.6m0-3.6l-3.6 3.6M275.3 477.3l3.6 3.6m0-3.6l-3.6 3.6M270.2 482.8l3.6 3.6m0-3.6l-3.6 3.6M277.1 483.9l3.6 3.6m0-3.6l-3.6 3.6M281.5 497.5l3.6 3.6m0-3.6l-3.6 3.6M284.2 497.7l3.6 3.6m0-3.6l-3.6 3.6M279.4 503.8l3.6 3.6m0-3.6l-3.6 3.6M292.3 505.9l3.6 3.6m0-3.6l-3.6 3.6M294.5 519.3l3.6 3.6m0-3.6l-3.6 3.6M297.2 521.6l3.6 3.6m0-3.6l-3.6 3.6M298.6 522.7l3.6 3.6m0-3.6l-3.6 3.6M300 522.4l3.6 3.6m0-3.6l-3.6 3.6M294.8 528.1l3.6 3.6m0-3.6l-3.6 3.6M300.2 526.7l3.6 3.6m0-3.6l-3.6 3.6M302.3 536.7l3.6 3.6m0-3.6l-3.6 3.6M304.4 548.1l3.6 3.6m0-3.6l-3.6 3.6M306.7 555.3l3.6 3.6m0-3.6l-3.6 3.6M314.6 554.3l3.6 3.6m0-3.6l-3.6 3.6M316.9 561.4l3.6 3.6m0-3.6l-3.6 3.6M319 562.8l3.6 3.6m0-3.6l-3.6 3.6M321.7 561.8l3.6 3.6m0-3.6l-3.6 3.6M324.4 567.5l3.6 3.6m0-3.6l-3.6 3.6M327.1 564.1l3.6 3.6m0-3.6l-3.6 3.6M329.6 561l3.6 3.6m0-3.6l-3.6 3.6M331.9 567.5l3.6 3.6m0-3.6l-3.6 3.6M309.5 571.6l3.6 3.6m0-3.6l-3.6 3.6M323.1 576.4l3.6 3.6m0-3.6l-3.6 3.6M325.1 576.4l3.6 3.6m0-3.6l-3.6 3.6M338.7 526.3l3.6 3.6m0-3.6l-3.6 3.6M334.2 545.1l3.6 3.6m0-3.6l-3.6 3.6M342.1 498.9l3.6 3.6m0-3.6l-3.6 3.6M355.1 451.2l3.6 3.6m0-3.6l-3.6 3.6M349.7 476.9l3.6 3.6m0-3.6l-3.6 3.6M347.7 480.1l3.6 3.6m0-3.6l-3.6 3.6M345.6 483.7l3.6 3.6m0-3.6l-3.6 3.6M341.6 499.8l3.6 3.6m0-3.6l-3.6 3.6M357.2 435.9l3.6 3.6m0-3.6l-3.6 3.6"/><path stroke="#00f" d="M88.4 428.7l3.6 3.6m0-3.6l-3.6 3.6M89.8 426l3.6 3.6m0-3.6l-3.6 3.6M92.5 420.5l3.6 3.6m0-3.6l-3.6 3.6M95.9 415.1l3.6 3.6m0-3.6l-3.6 3.6M98.6 414.4l3.6 3.6m0-3.6l-3.6 3.6M106.7 416.5l3.6 3.6m0-3.6l-3.6 3.6M110.8 413.1l3.6 3.6m0-3.6l-3.6 3.6M107.4 408.3l3.6 3.6m0-3.6l-3.6 3.6M110.1 407.6l3.6 3.6m0-3.6l-3.6 3.6M111.5 399.5l3.6 3.6m0-3.6l-3.6 3.6M110.8 404.2l3.6 3.6m0-3.6l-3.6 3.6M114.2 395.4l3.6 3.6m0-3.6l-3.6 3.6M114.9 398.8l3.6 3.6m0-3.6l-3.6 3.6M117.6 404.9l3.6 3.6m0-3.6l-3.6 3.6M118.3 400.8l3.6 3.6m0-3.6l-3.6 3.6M121.7 409.7l3.6 3.6m0-3.6l-3.6 3.6M122.4 406.9l3.6 3.6m0-3.6l-3.6 3.6M123.7 394l3.6 3.6m0-3.6l-3.6 3.6M125.1 398.8l3.6 3.6m0-3.6l-3.6 3.6M126.5 397.4l3.6 3.6m0-3.6l-3.6 3.6M128.5 413.7l3.6 3.6m0-3.6l-3.6 3.6M129.2 403.5l3.6 3.6m0-3.6l-3.6 3.6M130.5 402.2l3.6 3.6m0-3.6l-3.6 3.6M132.6 402.9l3.6 3.6m0-3.6l-3.6 3.6M133.9 404.9l3.6 3.6m0-3.6l-3.6 3.6M133.3 392l3.6 3.6m0-3.6l-3.6 3.6M135.3 392.7l3.6 3.6m0-3.6l-3.6 3.6M136.7 394l3.6 3.6m0-3.6l-3.6 3.6M138 392.7l3.6 3.6m0-3.6l-3.6 3.6M139.4 387.2l3.6 3.6m0-3.6l-3.6 3.6M142.1 386.6l3.6 3.6m0-3.6l-3.6 3.6M144.8 396.1l3.6 3.6m0-3.6l-3.6 3.6M147.5 393.4l3.6 3.6m0-3.6l-3.6 3.6M152.3 377.7l3.6 3.6m0-3.6l-3.6 3.6M152.3 387.2l3.6 3.6m0-3.6l-3.6 3.6M153 394l3.6 3.6m0-3.6l-3.6 3.6M155 392l3.6 3.6m0-3.6l-3.6 3.6M157.1 395.4l3.6 3.6m0-3.6l-3.6 3.6M157.1 399.5l3.6 3.6m0-3.6l-3.6 3.6M159.8 390l3.6 3.6m0-3.6l-3.6 3.6M162.5 389.3l3.6 3.6m0-3.6l-3.6 3.6M163.2 393.4l3.6 3.6m0-3.6l-3.6 3.6M165.9 383.8l3.6 3.6m0-3.6l-3.6 3.6M166.6 402.2l3.6 3.6m0-3.6l-3.6 3.6M158.9 394l3.6 3.6m0-3.6l-3.6 3.6M169.8 400.1l3.6 3.6m0-3.6l-3.6 3.6M171.8 402.2l3.6 3.6m0-3.6l-3.6 3.6M173.2 390l3.6 3.6m0-3.6l-3.6 3.6M175.9 390l3.6 3.6m0-3.6l-3.6 3.6M177.9 404.2l3.6 3.6m0-3.6l-3.6 3.6M178.6 396.1l3.6 3.6m0-3.6l-3.6 3.6M181.3 398.1l3.6 3.6m0-3.6l-3.6 3.6M183.4 393.4l3.6 3.6m0-3.6l-3.6 3.6M185.4 395.4l3.6 3.6m0-3.6l-3.6 3.6M187.4 392l3.6 3.6m0-3.6l-3.6 3.6M188.8 394l3.6 3.6m0-3.6l-3.6 3.6M190.8 398.8l3.6 3.6m0-3.6l-3.6 3.6M192.9 396.1l3.6 3.6m0-3.6l-3.6 3.6M194.2 400.8l3.6 3.6m0-3.6l-3.6 3.6M196.9 402.9l3.6 3.6m0-3.6l-3.6 3.6M197.6 400.1l3.6 3.6m0-3.6l-3.6 3.6M200.3 396.1l3.6 3.6m0-3.6l-3.6 3.6M201 401.5l3.6 3.6m0-3.6l-3.6 3.6M202.4 409.7l3.6 3.6m0-3.6l-3.6 3.6M205.1 404.9l3.6 3.6m0-3.6l-3.6 3.6M205.8 408.3l3.6 3.6m0-3.6l-3.6 3.6M207.8 412.4l3.6 3.6m0-3.6l-3.6 3.6M209.9 413.1l3.6 3.6m0-3.6l-3.6 3.6M210.5 415.8l3.6 3.6m0-3.6l-3.6 3.6M213.3 419.9l3.6 3.6m0-3.6l-3.6 3.6M214.6 424.6l3.6 3.6m0-3.6l-3.6 3.6M218 419.2l3.6 3.6m0-3.6l-3.6 3.6M219.4 420.5l3.6 3.6m0-3.6l-3.6 3.6M221.4 419.9l3.6 3.6m0-3.6l-3.6 3.6M223.5 421.2l3.6 3.6m0-3.6l-3.6 3.6M224.8 422.6l3.6 3.6m0-3.6l-3.6 3.6M226.2 423.3l3.6 3.6m0-3.6l-3.6 3.6M227.5 420.5l3.6 3.6m0-3.6l-3.6 3.6M228.9 418.5l3.6 3.6m0-3.6l-3.6 3.6M228.2 425.3l3.6 3.6m0-3.6l-3.6 3.6M234.3 423.3l3.6 3.6m0-3.6l-3.6 3.6M233.7 430.1l3.6 3.6m0-3.6l-3.6 3.6M235.7 428l3.6 3.6m0-3.6l-3.6 3.6M239.8 432.8l3.6 3.6m0-3.6l-3.6 3.6M240.5 434.8l3.6 3.6m0-3.6l-3.6 3.6M242.5 438.2l3.6 3.6m0-3.6l-3.6 3.6M243.8 440.3l3.6 3.6m0-3.6l-3.6 3.6M245.2 444.3l3.6 3.6m0-3.6l-3.6 3.6M246.6 447.1l3.6 3.6m0-3.6l-3.6 3.6M247.2 449.8l3.6 3.6m0-3.6l-3.6 3.6M234.6 428.4l3.6 3.6m0-3.6l-3.6 3.6M238.6 433.2l3.6 3.6m0-3.6l-3.6 3.6M240 431.8l3.6 3.6m0-3.6l-3.6 3.6M246.8 445.4l3.6 3.6m0-3.6l-3.6 3.6M244.8 448.1l3.6 3.6m0-3.6l-3.6 3.6M249.5 446.7l3.6 3.6m0-3.6l-3.6 3.6M250.2 444l3.6 3.6m0-3.6l-3.6 3.6M252.9 443.4l3.6 3.6m0-3.6l-3.6 3.6M252.2 450.1l3.6 3.6m0-3.6l-3.6 3.6M248.2 454.2l3.6 3.6m0-3.6l-3.6 3.6M256.3 458.3l3.6 3.6m0-3.6l-3.6 3.6M257 460.3l3.6 3.6m0-3.6l-3.6 3.6M259 458.3l3.6 3.6m0-3.6l-3.6 3.6M261.1 456.9l3.6 3.6m0-3.6l-3.6 3.6M262.4 458.3l3.6 3.6m0-3.6l-3.6 3.6M265.1 461.7l3.6 3.6m0-3.6l-3.6 3.6M266.5 471.2l3.6 3.6m0-3.6l-3.6 3.6M267.2 469.9l3.6 3.6m0-3.6l-3.6 3.6M338.7 503.6l3.6 3.6m0-3.6l-3.6 3.6M340.1 503l3.6 3.6m0-3.6l-3.6 3.6M335 536.5l3.6 3.6m0-3.6l-3.6 3.6M334.2 544.7l3.6 3.6m0-3.6l-3.6 3.6M329.2 565.5l3.6 3.6m0-3.6l-3.6 3.6M330.5 570.3l3.6 3.6m0-3.6l-3.6 3.6M317.6 573.7l3.6 3.6m0-3.6l-3.6 3.6M321 573.7l3.6 3.6m0-3.6l-3.6 3.6M324.2 583.6l3.6 3.6m0-3.6l-3.6 3.6M325.8 585.2l3.6 3.6m0-3.6l-3.6 3.6M343.6 496.4l3.6 3.6m0-3.6l-3.6 3.6M345 491.6l3.6 3.6m0-3.6l-3.6 3.6M348.8 468.9l3.6 3.6m0-3.6l-3.6 3.6M349.7 462.4l3.6 3.6m0-3.6l-3.6 3.6M353.4 445.4l3.6 3.6m0-3.6l-3.6 3.6M354.7 435.6l3.6 3.6m0-3.6l-3.6 3.6M358.4 426l3.6 3.6m0-3.6l-3.6 3.6M359 431.4l3.6 3.6m0-3.6l-3.6 3.6"/></g>
<circle cx="119.7" cy="199.9" r="2.9" fill="#f00"/><circle cx="119.7" cy="235.2" r="2.9" fill="#000"/><circle cx="119.7" cy="270.5" r="2.9" fill="#00f"/>
<path fill="none" stroke-width="0.85" stroke="#f00" d="M85.1 547l3.6 3.6m0-3.6l-3.6 3.6"/>
<path fill="none" stroke-width="0.85" stroke="#00f" d="M85.1 570.9l3.6 3.6m0-3.6l-3.6 3.6"/>
<path fill="none" stroke="#000" stroke-width="0.68" d="M59.5 5.5H662.5V323.5H59.5ZM59.5 367.5H662.5V608.8H59.5ZM89.5 5.5v10.7M89.5 323.5v-10.7M119.7 5.5v5.3M119.7 323.5v-5.3M149.8 5.5v5.3M149.8 323.5v-5.3M180 5.5v5.3M180 323.5v-5.3M210.2 5.5v5.3M210.2 323.5v-5.3M240.3 5.5v10.7M240.3 323.5v-10.7M270.5 5.5v5.3M270.5 323.5v-5.3M300.7 5.5v5.3M300.7 323.5v-5.3M330.8 5.5v5.3M330.8 323.5v-5.3M361 5.5v5.3M361 323.5v-5.3M391.2 5.5v10.7M391.2 323.5v-10.7M421.3 5.5v5.3M421.3 323.5v-5.3M451.5 5.5v5.3M451.5 323.5v-5.3M481.7 5.5v5.3M481.7 323.5v-5.3M511.8 5.5v5.3M511.8 323.5v-5.3M542 5.5v10.7M542 323.5v-10.7M572.2 5.5v5.3M572.2 323.5v-5.3M602.3 5.5v5.3M602.3 323.5v-5.3M632.5 5.5v5.3M632.5 323.5v-5.3M59.5 23.2h5.3M662.5 23.2h-5.3M59.5 40.8h5.3M662.5 40.8h-5.3M59.5 58.5h5.3M662.5 58.5h-5.3M59.5 76.2h10.7M662.5 76.2h-10.7M59.5 93.8h5.3M662.5 93.8h-5.3M59.5 111.5h5.3M662.5 111.5h-5.3M59.5 129.2h5.3M662.5 129.2h-5.3M59.5 146.8h10.7M662.5 146.8h-10.7M59.5 164.5h5.3M662.5 164.5h-5.3M59.5 182.2h5.3M662.5 182.2h-5.3M59.5 199.8h5.3M662.5 199.8h-5.3M59.5 217.5h10.7M662.5 217.5h-10.7M59.5 235.2h5.3M662.5 235.2h-5.3M59.5 252.8h5.3M662.5 252.8h-5.3M59.5 270.5h5.3M662.5 270.5h-5.3M59.5 288.2h10.7M662.5 288.2h-10.7M59.5 305.8h5.3M662.5 305.8h-5.3M86.5 367.5v10.7M86.5 608.8v-10.7M113.9 367.5v5.3M113.9 608.8v-5.3M141.4 367.5v5.3M141.4 608.8v-5.3M168.8 367.5v5.3M168.8 608.8v-5.3M196.3 367.5v5.3M196.3 608.8v-5.3M223.7 367.5v10.7M223.7 608.8v-10.7M251.2 367.5v5.3M251.2 608.8v-5.3M278.6 367.5v5.3M278.6 608.8v-5.3M306.1 367.5v5.3M306.1 608.8v-5.3M333.5 367.5v5.3M333.5 608.8v-5.3M361 367.5v10.7M361 608.8v-10.7M388.4 367.5v5.3M388.4 608.8v-5.3M415.9 367.5v5.3M415.9 608.8v-5.3M443.3 367.5v5.3M443.3 608.8v-5.3M470.8 367.5v5.3M470.8 608.8v-5.3M498.2 367.5v10.7M498.2 608.8v-10.7M525.7 367.5v5.3M525.7 608.8v-5.3M553.1 367.5v5.3M553.1 608.8v-5.3M580.6 367.5v5.3M580.6 608.8v-5.3M608 367.5v5.3M608 608.8v-5.3M635.5 367.5v10.7M635.5 608.8v-10.7M59.5 379.6h5.3M662.5 379.6h-5.3M59.5 391.6h5.3M662.5 391.6h-5.3M59.5 403.7h5.3M662.5 403.7h-5.3M59.5 415.8h5.3M662.5 415.8h-5.3M59.5 427.8h10.7M662.5 427.8h-10.7M59.5 439.9h5.3M662.5 439.9h-5.3M59.5 452h5.3M662.5 452h-5.3M59.5 464h5.3M662.5 464h-5.3M59.5 476.1h5.3M662.5 476.1h-5.3M59.5 488.1h10.7M662.5 488.1h-10.7M59.5 500.2h5.3M662.5 500.2h-5.3M59.5 512.3h5.3M662.5 512.3h-5.3M59.5 524.3h5.3M662.5 524.3h-5.3M59.5 536.4h5.3M662.5 536.4h-5.3M59.5 548.5h10.7M662.5 548.5h-10.7M59.5 560.5h5.3M662.5 560.5h-5.3M59.5 572.6h5.3M662.5 572.6h-5.3M59.5 584.7h5.3M662.5 584.7h-5.3M59.5 596.7h5.3M662.5 596.7h-5.3"/>
<g fill="#000" font-family="'Liberation Sans', sans-serif" font-size="16.6"><text x="164.8" y="234.9">H</text><text x="22.2" y="13.7">6.6</text><text x="22.2" y="84.4">6.8</text><text x="40.8" y="155">7</text><text x="22.2" y="225.7">7.2</text><text x="22.2" y="296.4">7.4</text><text x="22.2" y="375.7">8.4</text><text x="22.2" y="436">8.5</text><text x="22.2" y="496.3">8.6</text><text x="22.2" y="556.7">8.7</text><text x="22.2" y="617">8.8</text><text x="75.6" y="348.7">0.5</text><text x="235.8" y="348.7">1</text><text x="377.3" y="348.7">1.5</text><text x="537.5" y="348.7">2</text><text x="82.2" y="634.4">0</text><text x="210.2" y="634.4">0.5</text><text x="356.7" y="634.4">1</text><text x="484.7" y="634.4">1.5</text><text x="631.2" y="634.4">2</text><text x="338.1" y="659.5">Phase</text></g>
<g fill="#f00" font-family="'Liberation Sans', sans-serif" font-size="16.6"><text x="164.6" y="199.7">J</text><text x="100" y="548.6">Barnes et al. 1992</text></g>
<g fill="#00f" font-family="'Liberation Sans', sans-serif" font-size="16.6"><text x="164.8" y="270.2">K</text><text x="100.4" y="572.4">Jones et al. 1992</text></g>
<g fill="none" stroke="#3a3a3a" stroke-width="0.95">
<path transform="translate(0 239.7)" d="M1.6 -2.4V2.2M1.6 -0.2H10.6C12 -0.2 12.6 0.6 12.5 1.5C12.4 2.6 11.4 3.1 10.5 2.9C9.8 2.8 9.3 2.4 9.3 1.9"/>
<path transform="translate(0 222.5)" d="M3 0H12.1M7.5 -4.3V4.4"/>
<path transform="translate(0 203.7)" d="M1.5 0C1.5 -2.1 3.6 -3.7 7 -3.7C10.4 -3.7 12.5 -2.1 12.5 0C12.5 2.1 10.4 3.7 7 3.7C3.6 3.7 1.5 2.1 1.5 0Z"/>
<path transform="translate(0 189.5)" d="M4 3.1C2.6 3.1 1.5 1.8 1.5 0C1.5 -2 2.8 -3.3 4.4 -3.3C5.8 -3.3 6.8 -2.4 7.8 -1.2L12.1 3.5V-3.2L10.6 -3.6"/>
<path transform="translate(0 182)" d="M12.2 -0.3C13.2 -0.2 13.8 0.5 14.3 1.2"/>
<path transform="translate(0 166)" d="M1.5 -3.6H12.5M1.5 3.6H12.5M6.8 -3.6V3.6M1.5 -5V-2.2M1.5 2.2V5M12.5 -5V-2.2M12.5 2.2V5"/>
<path transform="translate(0 146.7)" d="M3 0H12.1M7.5 -4.3V4.4"/>
<path transform="translate(0 127.3)" d="M1.5 0C1.5 -2.1 3.6 -3.7 7 -3.7C10.4 -3.7 12.5 -2.1 12.5 0C12.5 2.1 10.4 3.7 7 3.7C3.6 3.7 1.5 2.1 1.5 0Z"/>
<path transform="translate(0 113.2)" d="M3.8 1.9L2.3 0H12.5M12.5 -2.6V2.4"/>
<path transform="translate(0 106)" d="M12.2 -0.3C13.2 -0.2 13.8 0.5 14.3 1.2"/>
<path transform="translate(0 89.5)" d="M1.5 4H12.5M1.5 2.7V5.3M12.5 2.6V5.4M1.6 -3.5L8.2 4M5.7 0.2L12.5 -3.8M1.5 -4.7V-2.3M12.5 -5.1V-2.6"/>
<path transform="translate(1.5 491.4)" d="M1.5 4H12.5M1.5 2.7V5.3M12.5 2.6V5.4M1.6 -3.5L8.2 4M5.7 0.2L12.5 -3.8M1.5 -4.7V-2.3M12.5 -5.1V-2.6"/>
<circle cx="11.6" cy="196.6" r="0.5" fill="#3a3a3a"/>
<circle cx="11.6" cy="182" r="0.5" fill="#3a3a3a"/>
<circle cx="11.6" cy="120.5" r="0.5" fill="#3a3a3a"/>
<circle cx="11.6" cy="106" r="0.5" fill="#3a3a3a"/>
</g>
</svg>
</body></html>
